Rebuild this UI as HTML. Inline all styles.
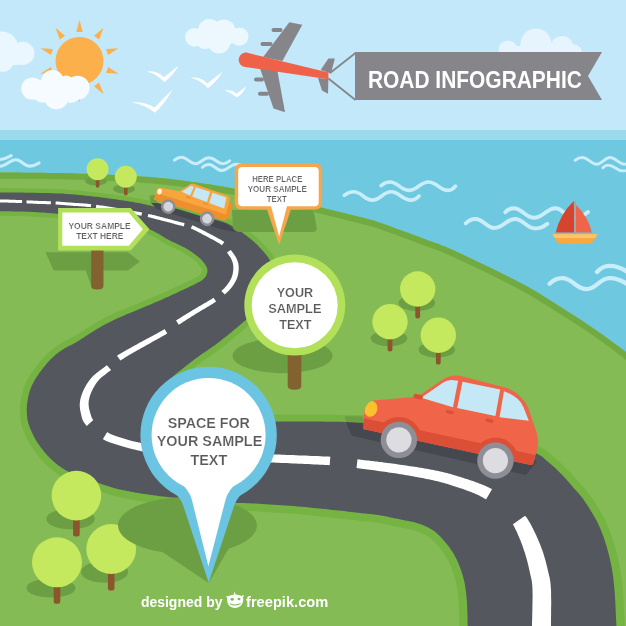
<!DOCTYPE html><html><head><meta charset="utf-8"><title>Road Infographic</title><style>html,body{margin:0;padding:0;background:#85bb55;overflow:hidden}svg{display:block;will-change:transform}</style></head><body><svg width="626" height="626" viewBox="0 0 626 626"><rect width="626" height="131" fill="#c2e8fa"/>
<rect y="130" width="626" height="11" fill="#9dd9ec"/>
<rect y="140" width="626" height="486" fill="#6ec8e0"/>
<g fill="#ebf7fe"><circle cx="1.5" cy="48.5" r="17.0"/><circle cx="22.8" cy="53.4" r="11.6"/><circle cx="2.5" cy="60.3" r="11.5"/></g>
<rect x="-5" y="50" width="30" height="15" rx="7" fill="#ebf7fe"/>
<g fill="#edf8fe"><circle cx="194.3" cy="37.2" r="9.2"/><circle cx="209.5" cy="30.5" r="11.5"/><circle cx="224.0" cy="31.0" r="11.5"/><circle cx="239.3" cy="36.6" r="9.2"/><circle cx="219.0" cy="42.3" r="11.3"/><circle cx="205.0" cy="40.3" r="8.8"/></g>
<ellipse cx="216.5" cy="37" rx="23" ry="9" fill="#edf8fe"/>
<g fill="#e6f5fd"><circle cx="508.0" cy="50.0" r="9.5"/><circle cx="536.0" cy="44.0" r="15.5"/><circle cx="562.0" cy="47.5" r="11.5"/><circle cx="574.0" cy="52.0" r="7.5"/></g>
<rect x="499" y="46" width="83" height="14" rx="7" fill="#e6f5fd"/>
<path d="M79.5 20.0 L82.7 32.0 L76.3 32.0Z M103.6 27.8 L99.1 39.4 L94.0 35.7Z M118.5 48.3 L108.1 55.1 L106.1 49.0Z M118.5 73.7 L106.1 73.0 L108.1 66.9Z M103.6 94.2 L94.0 86.3 L99.1 82.6Z M79.5 102.0 L76.3 90.0 L82.7 90.0Z M55.4 94.2 L59.9 82.6 L65.0 86.3Z M40.5 73.7 L50.9 66.9 L52.9 73.0Z M40.5 48.3 L52.9 49.0 L50.9 55.1Z M55.4 27.8 L65.0 35.7 L59.9 39.4Z" fill="#fbb04c"/>
<circle cx="79.5" cy="61" r="24" fill="#fbb04c"/>
<g fill="#f5fbff"><circle cx="32.3" cy="88.6" r="11.0"/><circle cx="52.5" cy="81.2" r="11.3"/><circle cx="77.6" cy="87.8" r="12.0"/><circle cx="56.3" cy="97.2" r="12.2"/><circle cx="66.0" cy="84.5" r="9.0"/><circle cx="42.5" cy="92.8" r="10.0"/><circle cx="70.5" cy="92.5" r="10.5"/></g>
<ellipse cx="55.5" cy="89.5" rx="33" ry="10.6" fill="#f5fbff"/>
<path d="M146.6 71.4 Q157.4 70.4 163.8 77.2 Q170.1 72.4 178.8 65.6 Q173.1 75.9 164.3 82.0 Q156.4 73.6 146.6 71.4 Z" fill="#fff"/>
<path d="M190.2 77.6 Q201.1 76.6 207.4 83.4 Q213.7 78.6 222.4 71.8 Q216.7 82.1 207.9 88.2 Q200.1 79.8 190.2 77.6 Z" fill="#fff"/>
<path d="M224.5 90.5 Q232.8 89.5 236.5 93.7 Q240.2 91.0 246.3 86.3 Q243.2 94.0 237.0 97.5 Q231.8 92.7 224.5 90.5 Z" fill="#fff"/>
<path d="M131.0 102.3 Q145.0 101.3 154.5 107.4 Q162.3 99.5 172.6 89.5 Q165.3 103.2 155.0 112.7 Q144.0 104.5 131.0 102.3 Z" fill="#fff"/>
<g fill="#85858a"><path d="M289.3 22.3 L302.3 24.8 L282.4 61 L263.2 57Z"/><path d="M259.4 66.5 L277.3 70.3 L285 112.2 L273.5 108.4Z"/><rect x="271.5" y="28" width="11" height="4" rx="2"/><rect x="260.5" y="42" width="12" height="4" rx="2"/><rect x="254" y="77.5" width="10" height="4" rx="2"/><rect x="258" y="91.7" width="11" height="4" rx="2"/><path d="M328.4 58.6 L334.8 58.6 L331 73.5 L320.7 70Z"/><path d="M318 78 L328.4 79 L328 93.8 L322 90.5Z"/></g>
<path d="M246.5 52.6 L328.4 72.4 L328.4 79.2 L245.2 67 A7.2 7.2 0 0 1 246.5 52.6Z" fill="#f0614a"/>
<path d="M330 73 L355.5 53 M328.4 78.5 L355.5 100" stroke="#85858a" stroke-width="1.8" fill="none"/>
<path d="M355 52 L602 52 L588 76 L602 100 L355 100Z" fill="#85858a"/>
<text x="474.9" y="87.6" font-family="Liberation Sans, Arial, sans-serif" font-weight="700" font-size="23.6" fill="#fff" text-anchor="middle" textLength="214" lengthAdjust="spacingAndGlyphs">ROAD INFOGRAPHIC</text>
<path d="M-14.0 160.0 C-11.2 159.8 -7.6 159.6 -3.0 159.6 C3.0 159.6 7.6 157.8 11.2 155.6" fill="none" stroke="#c9edf9" stroke-width="3.1" stroke-linecap="round"/>
<path d="M-16.0 159.8 C-12.0 163.3 -6.7 166.2 0.0 166.2 C6.7 166.2 9.3 159.8 16.0 159.8 C21.7 159.8 23.9 166.1 29.6 166.1 C33.5 166.1 36.6 164.7 39.0 163.0" fill="none" stroke="#c9edf9" stroke-width="3.1" stroke-linecap="round"/>
<path d="M174.4 160.1 C176.2 158.5 178.6 157.2 181.6 157.2 C187.3 157.2 189.5 163.7 195.2 163.7 C201.0 163.7 203.1 157.7 208.9 157.7 C214.9 157.7 217.3 163.7 223.3 163.7 C226.0 163.7 228.1 162.4 229.7 160.8" fill="none" stroke="#c9edf9" stroke-width="3.0" stroke-linecap="round"/>
<path d="M202.4 167.3 C204.0 165.7 206.2 164.4 208.9 164.4 C214.3 164.4 216.4 170.6 221.8 170.6 C227.8 170.6 230.0 164.2 236.0 164.2 C237.7 164.2 239.0 164.6 240.0 165.0" fill="none" stroke="#c9edf9" stroke-width="3.0" stroke-linecap="round"/>
<path d="M344.3 195.3 C346.7 193.4 349.8 191.8 353.7 191.8 C361.6 191.8 364.5 200.1 372.4 200.1 C380.2 200.1 383.2 191.8 391.0 191.8 C399.3 191.8 402.5 200.1 410.8 200.1 C414.3 200.1 417.0 198.3 419.1 196.0" fill="none" stroke="#c9edf9" stroke-width="3.6" stroke-linecap="round"/>
<path d="M381.1 185.6 C383.3 183.6 386.3 182.0 390.0 182.0 C397.9 182.0 400.8 190.4 408.7 190.4 C417.0 190.4 420.2 182.0 428.5 182.0 C436.8 182.0 439.9 190.4 448.2 190.4 C451.3 190.4 453.7 188.5 455.5 186.2" fill="none" stroke="#c9edf9" stroke-width="3.6" stroke-linecap="round"/>
<path d="M465.8 223.3 C468.2 220.9 471.4 219.0 475.4 219.0 C483.4 219.0 486.5 228.0 494.5 228.0 C503.1 228.0 506.3 219.0 514.9 219.0 C523.5 219.0 526.7 228.5 535.3 228.5 C540.3 228.5 544.3 226.4 547.3 223.8" fill="none" stroke="#c9edf9" stroke-width="3.9" stroke-linecap="round"/>
<path d="M505.3 212.3 C507.4 210.0 510.2 208.2 513.7 208.2 C522.2 208.2 525.5 217.8 534.0 217.8 C543.1 217.8 546.5 208.2 555.6 208.2 C562.9 208.2 565.7 217.8 573.0 217.8 C579.3 217.8 584.2 215.2 588.0 212.0" fill="none" stroke="#c9edf9" stroke-width="3.9" stroke-linecap="round"/>
<path d="M575.1 160.3 C576.9 158.8 579.3 157.5 582.3 157.5 C588.3 157.5 590.7 164.2 596.7 164.2 C602.3 164.2 604.5 157.5 610.1 157.5 C616.1 157.5 618.5 164.2 624.5 164.2 C631.0 164.2 636.1 161.2 640.0 157.5" fill="none" stroke="#c9edf9" stroke-width="2.9" stroke-linecap="round"/>
<path d="M602.9 167.8 C604.2 166.3 606.0 165.1 608.2 165.1 C614.2 165.1 616.6 170.9 622.6 170.9 C628.6 170.9 633.4 168.3 637.0 165.1" fill="none" stroke="#c9edf9" stroke-width="2.9" stroke-linecap="round"/>
<path d="M549.6 283.7 C552.7 280.7 556.8 278.2 562.0 278.2 C572.4 278.2 576.3 289.2 586.7 289.2 C596.2 289.2 599.9 278.2 609.4 278.2 C619.3 278.2 627.1 283.1 633.0 289.2" fill="none" stroke="#c9edf9" stroke-width="4.3" stroke-linecap="round"/>
<path d="M597.0 272.0 C600.1 268.6 604.2 265.8 609.4 265.8 C619.3 265.8 627.1 270.8 633.0 277.0" fill="none" stroke="#c9edf9" stroke-width="4.3" stroke-linecap="round"/>
<path d="M573.8 201 Q560 214 555.7 232.5 L574.2 232.5Z" fill="#d5452e"/>
<path d="M576 205 Q588.5 217 591.8 232.5 L576 232.5Z" fill="#f0654a"/>
<rect x="574.1" y="201" width="1.8" height="33" fill="#a3a3a8"/>
<path d="M552.3 234.2 L597.6 234.2 L592 243.2 Q575 244.8 558 243.2Z" fill="#f8a93f"/>
<path d="M552.3 234.2 L597.6 234.2 L595.3 238 L554.6 238Z" fill="#fbc56b"/>
<clipPath id="landclip"><path d="M-20.0 172.4 C-16.7 172.4 -10.0 172.4 0.0 172.5 C10.0 172.6 27.3 172.6 40.0 172.8 C52.7 173.0 62.7 173.1 76.0 173.5 C89.3 173.9 106.0 174.6 120.0 175.3 C134.0 176.1 146.7 176.7 160.0 178.0 C173.3 179.3 187.8 181.2 200.0 183.0 C212.2 184.8 219.7 186.0 233.0 188.5 C246.3 191.0 265.3 194.8 280.0 198.0 C294.7 201.2 307.7 204.3 321.0 207.5 C334.3 210.7 350.2 214.5 360.0 217.0 C369.8 219.5 369.2 219.0 380.0 222.7 C390.8 226.4 413.6 234.9 424.6 239.0 C435.6 243.1 438.1 243.7 446.0 247.0 C453.9 250.3 463.2 254.8 472.0 259.0 C480.8 263.2 489.3 267.2 499.0 272.0 C508.7 276.8 520.0 282.3 530.0 288.0 C540.0 293.7 549.0 299.7 559.0 306.0 C569.0 312.3 578.8 318.3 590.0 326.0 C601.2 333.7 616.0 344.3 626.0 352.0 C636.0 359.7 646.0 368.7 650.0 372.0 L650 640 L-20 640 Z"/></clipPath>
<path d="M-20.0 172.4 C-16.7 172.4 -10.0 172.4 0.0 172.5 C10.0 172.6 27.3 172.6 40.0 172.8 C52.7 173.0 62.7 173.1 76.0 173.5 C89.3 173.9 106.0 174.6 120.0 175.3 C134.0 176.1 146.7 176.7 160.0 178.0 C173.3 179.3 187.8 181.2 200.0 183.0 C212.2 184.8 219.7 186.0 233.0 188.5 C246.3 191.0 265.3 194.8 280.0 198.0 C294.7 201.2 307.7 204.3 321.0 207.5 C334.3 210.7 350.2 214.5 360.0 217.0 C369.8 219.5 369.2 219.0 380.0 222.7 C390.8 226.4 413.6 234.9 424.6 239.0 C435.6 243.1 438.1 243.7 446.0 247.0 C453.9 250.3 463.2 254.8 472.0 259.0 C480.8 263.2 489.3 267.2 499.0 272.0 C508.7 276.8 520.0 282.3 530.0 288.0 C540.0 293.7 549.0 299.7 559.0 306.0 C569.0 312.3 578.8 318.3 590.0 326.0 C601.2 333.7 616.0 344.3 626.0 352.0 C636.0 359.7 646.0 368.7 650.0 372.0 L650 640 L-20 640 Z" fill="#85bb55"/>
<path d="M-20.0 172.4 C-16.7 172.4 -10.0 172.4 0.0 172.5 C10.0 172.6 27.3 172.6 40.0 172.8 C52.7 173.0 62.7 173.1 76.0 173.5 C89.3 173.9 106.0 174.6 120.0 175.3 C134.0 176.1 146.7 176.7 160.0 178.0 C173.3 179.3 187.8 181.2 200.0 183.0 C212.2 184.8 219.7 186.0 233.0 188.5 C246.3 191.0 265.3 194.8 280.0 198.0 C294.7 201.2 307.7 204.3 321.0 207.5 C334.3 210.7 350.2 214.5 360.0 217.0 C369.8 219.5 369.2 219.0 380.0 222.7 C390.8 226.4 413.6 234.9 424.6 239.0 C435.6 243.1 438.1 243.7 446.0 247.0 C453.9 250.3 463.2 254.8 472.0 259.0 C480.8 263.2 489.3 267.2 499.0 272.0 C508.7 276.8 520.0 282.3 530.0 288.0 C540.0 293.7 549.0 299.7 559.0 306.0 C569.0 312.3 578.8 318.3 590.0 326.0 C601.2 333.7 616.0 344.3 626.0 352.0 C636.0 359.7 646.0 368.7 650.0 372.0" fill="none" stroke="#70aa41" stroke-width="12.4" clip-path="url(#landclip)"/>
<path d="M-10.0 188.0 L-9.6 188.0 L-9.5 188.0 L-9.3 188.0 L-9.0 188.0 L-8.6 188.0 L-7.9 188.0 L-6.8 188.0 L-5.1 188.0 L-2.9 188.0 L0.1 188.1 L4.0 188.1 L8.8 188.2 L14.4 188.2 L20.5 188.3 L27.0 188.4 L33.7 188.4 L40.2 188.6 L46.6 188.7 L52.5 188.9 L57.7 189.1 L62.4 189.3 L66.9 189.6 L71.2 189.9 L75.3 190.3 L79.2 190.6 L82.9 191.0 L86.5 191.4 L89.9 191.7 L93.1 192.1 L96.3 192.4 L99.3 192.8 L102.0 193.1 L104.6 193.4 L107.0 193.7 L109.3 194.0 L111.5 194.3 L113.6 194.6 L115.7 194.9 L117.7 195.2 L119.8 195.5 L121.9 195.8 L124.0 196.1 L126.0 196.4 L128.0 196.7 L130.0 197.0 L131.9 197.3 L133.7 197.7 L135.6 198.0 L137.4 198.3 L139.1 198.6 L140.8 198.9 L142.4 199.3 L143.9 199.6 L145.4 199.9 L146.9 200.2 L148.3 200.5 L149.8 200.9 L151.3 201.2 L152.9 201.6 L154.7 202.0 L156.6 202.4 L158.6 202.9 L160.6 203.4 L162.7 203.8 L164.8 204.3 L167.0 204.8 L169.2 205.3 L171.4 205.8 L173.7 206.3 L176.0 206.8 L178.3 207.3 L180.7 207.8 L183.2 208.3 L185.7 208.8 L188.3 209.2 L190.8 209.7 L193.4 210.2 L196.0 210.7 L198.5 211.2 L201.0 211.8 L203.4 212.3 L205.8 212.8 L208.3 213.3 L210.8 213.8 L213.2 214.3 L215.6 214.9 L218.0 215.4 L220.3 216.0 L222.5 216.7 L224.6 217.4 L226.6 218.0 L228.4 218.8 L230.0 219.5 L231.6 220.2 L233.1 221.0 L234.5 221.8 L235.9 222.6 L237.2 223.5 L238.6 224.3 L240.1 225.3 L241.7 226.3 L243.4 227.4 L245.0 228.6 L246.7 229.8 L248.4 231.0 L250.0 232.3 L251.6 233.5 L253.2 234.7 L254.6 235.9 L256.0 237.0 L257.3 238.1 L258.5 239.2 L259.6 240.2 L260.7 241.3 L261.7 242.3 L262.7 243.3 L263.6 244.2 L264.5 245.2 L265.3 246.1 L266.2 247.0 L267.0 247.9 L267.7 248.7 L268.5 249.6 L269.2 250.4 L270.0 251.3 L270.7 252.2 L271.4 253.1 L272.1 254.1 L272.9 255.2 L273.6 256.4 L274.3 257.5 L275.0 258.8 L275.7 260.0 L276.4 261.4 L277.1 262.8 L277.8 264.2 L278.4 265.8 L279.1 267.3 L279.6 268.9 L280.1 270.6 L280.6 272.2 L281.0 273.8 L281.4 275.6 L281.8 277.3 L282.1 279.2 L282.3 281.0 L282.5 282.9 L282.6 284.8 L282.6 286.7 L282.5 288.5 L282.3 290.3 L282.0 292.1 L281.6 293.9 L281.2 295.6 L280.6 297.3 L280.0 298.9 L279.3 300.6 L278.5 302.2 L277.7 303.7 L276.7 305.2 L275.7 306.7 L274.6 308.1 L273.4 309.4 L272.2 310.6 L270.9 311.8 L269.6 312.9 L268.3 313.9 L267.0 314.9 L265.6 315.9 L264.3 316.8 L262.7 317.8 L261.1 318.8 L259.4 319.7 L257.8 320.5 L256.2 321.3 L254.7 322.0 L253.2 322.7 L251.9 323.4 L250.7 324.1 L249.6 324.8 L248.6 325.4 L247.7 326.1 L246.9 326.8 L246.1 327.4 L245.3 328.2 L244.4 329.0 L243.4 329.9 L242.3 330.9 L241.0 332.0 L239.6 333.2 L238.0 334.4 L236.3 335.8 L234.5 337.3 L232.6 338.9 L230.6 340.6 L228.6 342.3 L226.5 343.9 L224.5 345.6 L222.4 347.2 L220.4 348.7 L218.4 350.2 L216.4 351.7 L214.4 353.1 L212.4 354.5 L210.4 355.8 L208.5 357.2 L206.6 358.5 L204.7 359.8 L202.9 361.0 L201.2 362.3 L199.5 363.6 L197.8 364.8 L196.2 366.1 L194.6 367.3 L193.0 368.5 L191.4 369.7 L189.9 371.0 L188.3 372.2 L186.8 373.4 L185.3 374.7 L183.7 376.0 L182.1 377.3 L180.5 378.7 L178.9 380.0 L177.4 381.3 L175.9 382.6 L174.5 383.9 L173.2 385.1 L171.9 386.3 L170.8 387.5 L169.7 388.7 L168.6 390.0 L167.6 391.3 L166.6 392.4 L165.7 393.6 L165.0 394.7 L164.4 395.6 L164.0 396.5 L163.7 397.2 L163.5 397.7 L163.4 398.3 L163.3 399.0 L163.3 399.5 L163.4 399.9 L163.4 400.2 L163.5 400.5 L163.7 400.8 L163.9 401.1 L164.2 401.5 L164.6 401.9 L165.3 402.5 L166.2 403.1 L167.3 403.8 L168.5 404.4 L170.0 405.1 L171.6 405.8 L173.4 406.4 L175.3 407.1 L177.4 407.7 L179.7 408.3 L182.1 408.8 L184.7 409.3 L187.6 409.8 L190.7 410.3 L193.9 410.7 L197.1 411.1 L200.5 411.5 L203.9 411.9 L207.3 412.2 L210.6 412.5 L213.9 412.8 L217.3 413.1 L220.7 413.3 L224.2 413.5 L227.7 413.6 L231.3 413.8 L234.8 413.9 L238.3 414.0 L241.8 414.1 L245.2 414.2 L248.4 414.3 L251.4 414.3 L254.2 414.4 L257.0 414.4 L259.8 414.4 L262.8 414.4 L266.0 414.4 L269.6 414.4 L273.6 414.5 L278.0 414.5 L283.1 414.5 L288.6 414.5 L294.5 414.5 L300.8 414.5 L307.3 414.5 L314.0 414.6 L320.7 414.6 L327.3 414.6 L333.8 414.7 L340.1 414.8 L346.3 414.9 L352.6 415.0 L358.9 415.1 L365.3 415.3 L371.6 415.4 L377.7 415.6 L383.8 415.8 L389.6 416.0 L395.1 416.2 L400.4 416.5 L405.2 416.7 L409.7 417.0 L414.0 417.3 L418.0 417.6 L421.9 417.9 L425.6 418.2 L429.4 418.6 L433.1 419.0 L437.0 419.5 L440.9 420.0 L445.0 420.6 L449.2 421.2 L453.4 421.8 L457.7 422.5 L461.9 423.2 L466.0 424.0 L470.1 424.7 L474.0 425.5 L477.8 426.3 L481.5 427.0 L485.0 427.8 L488.3 428.5 L491.5 429.3 L494.6 430.0 L497.7 430.8 L500.6 431.6 L503.6 432.4 L506.5 433.3 L509.4 434.2 L512.3 435.2 L515.4 436.3 L518.4 437.4 L521.5 438.6 L524.5 439.9 L527.5 441.1 L530.4 442.4 L533.1 443.6 L535.7 444.8 L538.0 446.0 L540.2 447.0 L542.0 448.0 L543.7 449.0 L545.2 449.9 L546.4 450.8 L547.6 451.7 L548.6 452.5 L549.4 453.3 L550.2 454.0 L551.1 454.7 L552.0 455.6 L553.2 456.5 L554.5 457.6 L555.8 458.7 L557.2 459.9 L558.5 461.1 L559.9 462.3 L561.2 463.6 L562.6 464.8 L564.0 466.1 L565.3 467.4 L566.6 468.8 L567.9 470.1 L569.1 471.4 L570.4 472.8 L571.6 474.1 L572.9 475.5 L574.1 476.9 L575.3 478.3 L576.5 479.6 L577.7 481.0 L578.9 482.3 L580.1 483.6 L581.3 484.9 L582.5 486.3 L583.8 487.7 L585.1 489.2 L586.5 490.9 L587.9 492.7 L589.4 494.6 L590.9 496.6 L592.3 498.8 L593.9 501.1 L595.5 503.5 L597.1 506.1 L598.7 508.7 L600.4 511.5 L602.0 514.3 L603.6 517.2 L605.1 520.1 L606.5 523.1 L607.8 526.0 L609.0 529.1 L610.2 532.1 L611.4 535.3 L612.4 538.4 L613.5 541.6 L614.4 544.7 L615.3 547.8 L616.2 551.0 L617.0 554.1 L617.8 557.1 L618.5 560.0 L619.1 563.0 L619.6 565.9 L620.2 568.8 L620.6 571.8 L621.1 574.8 L621.5 578.0 L621.9 581.3 L622.3 584.8 L622.7 588.6 L623.0 592.8 L623.3 597.3 L623.6 601.8 L623.9 606.4 L624.1 610.8 L624.3 615.1 L624.5 619.1 L624.7 622.6 L624.9 625.6 L625.0 628.1 L625.1 630.3 L625.2 632.2 L625.3 633.8 L625.3 635.2 L625.4 636.4 L625.4 637.4 L625.4 638.2 L625.5 639.0 L625.5 639.7 L459.5 640.2 L459.5 639.4 L459.5 638.4 L459.5 637.4 L459.4 636.2 L459.4 634.9 L459.4 633.4 L459.4 631.8 L459.3 630.1 L459.3 628.2 L459.2 626.2 L459.2 624.0 L459.1 621.5 L459.1 618.8 L459.1 616.0 L459.0 613.1 L458.9 610.2 L458.9 607.3 L458.7 604.6 L458.6 601.9 L458.4 599.5 L458.2 597.1 L458.0 594.7 L457.7 592.5 L457.4 590.3 L457.2 588.2 L456.8 586.2 L456.4 584.1 L456.0 582.1 L455.5 580.1 L455.0 578.0 L454.3 575.9 L453.6 573.7 L452.8 571.5 L452.0 569.2 L451.2 567.1 L450.2 564.9 L449.3 562.8 L448.2 560.7 L447.2 558.7 L446.1 556.8 L444.8 554.9 L443.5 552.9 L442.1 550.9 L440.6 549.0 L439.0 547.0 L437.4 545.2 L435.8 543.4 L434.3 541.8 L432.8 540.3 L431.3 539.0 L430.0 537.9 L428.7 536.9 L427.4 536.1 L426.1 535.3 L424.7 534.6 L423.3 533.9 L421.9 533.2 L420.4 532.6 L418.8 532.0 L417.2 531.3 L415.8 530.8 L414.5 530.4 L413.2 530.1 L411.9 529.7 L410.5 529.4 L408.9 529.1 L407.2 528.8 L405.4 528.5 L403.5 528.1 L401.4 527.7 L399.2 527.2 L396.8 526.7 L394.3 526.1 L391.8 525.6 L389.1 525.0 L386.5 524.5 L384.0 524.0 L381.5 523.5 L379.2 523.1 L377.0 522.7 L375.1 522.4 L373.3 522.1 L371.6 521.9 L370.0 521.8 L368.4 521.6 L366.8 521.5 L365.0 521.3 L363.2 521.2 L361.2 521.0 L359.1 520.7 L357.0 520.5 L354.8 520.2 L352.7 520.0 L350.5 519.7 L348.2 519.4 L345.9 519.1 L343.4 518.9 L340.8 518.6 L338.0 518.2 L335.0 517.9 L331.7 517.6 L328.2 517.2 L324.5 516.8 L320.7 516.4 L316.8 516.0 L312.7 515.6 L308.7 515.2 L304.7 514.8 L300.7 514.4 L296.9 514.1 L293.0 513.8 L289.1 513.5 L285.1 513.2 L281.1 512.9 L277.2 512.7 L273.2 512.4 L269.4 512.2 L265.6 511.9 L262.0 511.7 L258.6 511.5 L255.3 511.3 L252.2 511.2 L249.3 511.1 L246.5 510.9 L243.7 510.8 L240.9 510.7 L238.2 510.6 L235.4 510.5 L232.5 510.4 L229.6 510.2 L226.6 510.0 L223.7 509.9 L220.7 509.7 L217.7 509.5 L214.7 509.3 L211.7 509.1 L208.7 508.9 L205.6 508.7 L202.5 508.4 L199.3 508.2 L196.0 507.9 L192.5 507.5 L188.9 507.1 L185.3 506.8 L181.6 506.4 L178.1 506.0 L174.8 505.6 L171.7 505.2 L168.9 504.9 L166.5 504.6 L164.5 504.4 L162.9 504.2 L161.7 504.1 L160.7 504.0 L159.8 503.9 L159.0 503.8 L158.1 503.7 L157.2 503.5 L156.1 503.4 L154.7 503.2 L153.1 503.0 L151.4 502.7 L149.5 502.4 L147.6 502.2 L145.6 501.9 L143.6 501.6 L141.5 501.2 L139.4 500.9 L137.4 500.6 L135.4 500.2 L133.5 499.9 L131.5 499.5 L129.6 499.2 L127.7 498.8 L125.7 498.5 L123.7 498.1 L121.7 497.7 L119.7 497.2 L117.7 496.8 L115.6 496.3 L113.6 495.7 L111.6 495.2 L109.6 494.6 L107.6 494.0 L105.7 493.4 L103.7 492.7 L101.8 492.1 L99.9 491.5 L97.9 490.8 L96.0 490.2 L94.0 489.5 L92.0 488.9 L89.9 488.2 L87.8 487.6 L85.7 486.9 L83.6 486.1 L81.4 485.4 L79.3 484.6 L77.2 483.8 L75.1 482.9 L73.1 482.0 L71.1 481.1 L69.1 480.2 L67.2 479.3 L65.2 478.3 L63.3 477.3 L61.4 476.2 L59.5 475.1 L57.6 473.9 L55.8 472.7 L54.0 471.4 L52.3 470.1 L50.6 468.7 L49.0 467.3 L47.5 465.9 L46.0 464.5 L44.6 463.0 L43.2 461.6 L41.9 460.1 L40.6 458.7 L39.3 457.2 L38.0 455.7 L36.8 454.1 L35.6 452.6 L34.5 451.0 L33.3 449.4 L32.3 447.8 L31.2 446.2 L30.3 444.6 L29.3 443.0 L28.4 441.3 L27.5 439.6 L26.6 437.9 L25.8 436.2 L25.0 434.4 L24.3 432.7 L23.6 431.0 L23.0 429.3 L22.4 427.7 L21.9 426.1 L21.4 424.5 L21.0 423.0 L20.7 421.5 L20.5 420.0 L20.3 418.6 L20.2 417.3 L20.1 416.0 L20.0 414.7 L19.9 413.5 L19.9 412.3 L19.9 411.1 L19.8 409.8 L19.9 408.6 L19.9 407.4 L20.0 406.2 L20.1 404.9 L20.2 403.7 L20.4 402.4 L20.6 401.2 L20.8 399.9 L21.0 398.6 L21.3 397.2 L21.6 395.8 L21.9 394.4 L22.3 392.9 L22.7 391.3 L23.1 389.8 L23.6 388.2 L24.2 386.6 L24.9 385.0 L25.6 383.4 L26.3 381.9 L27.1 380.4 L27.9 378.8 L28.7 377.3 L29.6 375.8 L30.6 374.3 L31.6 372.8 L32.6 371.3 L33.7 369.7 L34.8 368.2 L36.1 366.6 L37.3 364.9 L38.7 363.3 L40.0 361.6 L41.4 360.0 L42.8 358.4 L44.2 356.9 L45.7 355.4 L47.0 354.0 L48.4 352.7 L49.8 351.4 L51.2 350.3 L52.6 349.2 L53.9 348.1 L55.3 347.2 L56.6 346.2 L58.0 345.3 L59.3 344.4 L60.6 343.6 L62.0 342.7 L63.4 341.9 L64.8 341.2 L66.1 340.5 L67.3 339.9 L68.5 339.3 L69.8 338.7 L71.0 338.1 L72.4 337.4 L73.8 336.5 L75.5 335.5 L77.3 334.4 L79.2 333.2 L81.2 331.9 L83.3 330.5 L85.4 329.1 L87.6 327.7 L89.7 326.4 L91.9 325.0 L93.9 323.8 L95.9 322.7 L97.8 321.6 L99.7 320.6 L101.6 319.6 L103.5 318.6 L105.4 317.6 L107.3 316.6 L109.3 315.6 L111.3 314.7 L113.5 313.6 L115.8 312.6 L118.2 311.6 L120.7 310.5 L123.2 309.4 L125.7 308.4 L128.3 307.3 L130.8 306.3 L133.2 305.3 L135.5 304.4 L137.8 303.5 L139.9 302.6 L141.9 301.7 L143.9 300.9 L145.8 300.1 L147.7 299.3 L149.5 298.6 L151.4 297.8 L153.2 297.1 L155.0 296.3 L156.9 295.5 L158.8 294.6 L160.7 293.8 L162.7 292.9 L164.6 292.1 L166.5 291.2 L168.4 290.3 L170.3 289.5 L172.2 288.6 L174.1 287.8 L175.9 286.9 L177.8 286.1 L179.7 285.2 L181.6 284.3 L183.5 283.5 L185.3 282.6 L187.1 281.8 L188.8 281.0 L190.4 280.3 L191.8 279.6 L193.1 278.9 L194.3 278.3 L195.3 277.8 L196.2 277.3 L197.0 276.9 L197.6 276.5 L198.2 276.2 L198.7 275.9 L199.1 275.6 L199.5 275.3 L199.9 275.0 L200.2 274.6 L200.5 274.3 L200.8 274.0 L201.0 273.7 L201.2 273.5 L201.4 273.2 L201.5 273.0 L201.6 272.7 L201.7 272.4 L201.8 272.1 L201.9 271.7 L202.0 271.3 L202.1 271.0 L202.1 270.7 L202.1 270.5 L202.1 270.3 L202.1 270.1 L202.1 269.9 L202.0 269.6 L201.8 269.2 L201.6 268.7 L201.2 268.1 L200.8 267.4 L200.3 266.7 L199.8 266.0 L199.2 265.2 L198.6 264.4 L197.9 263.6 L197.1 262.8 L196.2 262.0 L195.3 261.2 L194.3 260.3 L193.2 259.4 L192.0 258.5 L190.8 257.6 L189.5 256.7 L188.2 255.7 L186.7 254.8 L185.3 253.9 L183.8 253.0 L182.2 252.1 L180.5 251.1 L178.7 250.2 L176.7 249.3 L174.8 248.3 L172.7 247.3 L170.7 246.4 L168.7 245.4 L166.7 244.4 L164.7 243.4 L162.8 242.3 L161.0 241.3 L159.4 240.2 L157.8 239.2 L156.3 238.3 L154.8 237.3 L153.3 236.4 L151.6 235.6 L149.8 234.7 L147.8 233.9 L145.4 233.0 L142.9 232.1 L140.1 231.2 L137.2 230.3 L134.2 229.4 L131.2 228.6 L128.1 227.8 L125.0 227.0 L122.0 226.3 L119.0 225.6 L116.1 225.0 L113.2 224.4 L110.3 223.9 L107.4 223.5 L104.5 223.0 L101.6 222.6 L98.6 222.2 L95.6 221.8 L92.6 221.5 L89.5 221.1 L86.3 220.8 L83.1 220.4 L79.9 220.1 L76.6 219.8 L73.3 219.5 L70.0 219.3 L66.7 219.0 L63.5 218.8 L60.3 218.5 L57.1 218.3 L54.1 218.1 L51.2 217.8 L48.3 217.6 L45.4 217.4 L42.6 217.2 L39.8 217.0 L37.0 216.8 L34.2 216.7 L31.4 216.5 L28.6 216.4 L25.7 216.3 L22.6 216.2 L19.5 216.1 L16.3 216.0 L13.2 216.0 L10.1 215.9 L7.2 215.9 L4.5 215.8 L2.1 215.8 L-0.1 215.8 L-1.9 215.7 L-3.4 215.7 L-4.7 215.7 L-5.9 215.7 L-6.8 215.7 L-7.6 215.7 L-8.3 215.7 L-9.0 215.7 L-9.5 215.7 L-10.0 215.7Z" fill="#75b343"/>
<path d="M-10.0 192.3 L-9.6 192.3 L-9.4 192.3 L-9.2 192.3 L-9.0 192.3 L-8.6 192.3 L-7.9 192.3 L-6.8 192.3 L-5.2 192.3 L-3.0 192.4 L0.0 192.4 L3.9 192.5 L8.8 192.5 L14.4 192.6 L20.5 192.6 L27.0 192.7 L33.6 192.8 L40.2 192.9 L46.5 193.0 L52.3 193.2 L57.5 193.4 L62.2 193.6 L66.6 193.9 L70.9 194.3 L74.9 194.6 L78.8 195.0 L82.5 195.3 L86.0 195.7 L89.4 196.1 L92.7 196.5 L95.8 196.8 L98.8 197.1 L101.5 197.4 L104.1 197.8 L106.4 198.1 L108.7 198.4 L110.9 198.7 L113.0 199.0 L115.0 199.3 L117.1 199.6 L119.2 199.9 L121.3 200.2 L123.4 200.5 L125.4 200.8 L127.3 201.1 L129.2 201.4 L131.1 201.7 L133.0 202.0 L134.8 202.4 L136.6 202.7 L138.3 203.0 L140.0 203.3 L141.5 203.6 L143.0 204.0 L144.4 204.3 L145.9 204.6 L147.3 204.9 L148.8 205.3 L150.3 205.6 L151.9 206.0 L153.7 206.4 L155.6 206.8 L157.5 207.3 L159.5 207.8 L161.6 208.2 L163.8 208.8 L165.9 209.3 L168.2 209.8 L170.4 210.3 L172.7 210.8 L175.0 211.3 L177.4 211.8 L179.8 212.3 L182.3 212.8 L184.8 213.3 L187.4 213.8 L190.0 214.3 L192.5 214.8 L195.1 215.3 L197.6 215.8 L200.0 216.3 L202.4 216.8 L204.9 217.3 L207.3 217.9 L209.8 218.4 L212.2 218.9 L214.6 219.4 L216.9 220.0 L219.1 220.6 L221.2 221.2 L223.1 221.8 L224.9 222.5 L226.5 223.1 L228.0 223.8 L229.4 224.5 L230.8 225.2 L232.1 225.9 L233.4 226.7 L234.7 227.5 L236.1 228.4 L237.5 229.3 L239.0 230.3 L240.6 231.4 L242.2 232.5 L243.8 233.7 L245.4 234.9 L247.0 236.1 L248.6 237.4 L250.1 238.6 L251.5 239.7 L252.8 240.8 L254.0 241.8 L255.1 242.9 L256.2 243.9 L257.2 244.8 L258.1 245.8 L259.0 246.7 L259.9 247.7 L260.8 248.6 L261.6 249.5 L262.4 250.4 L263.2 251.3 L263.9 252.1 L264.6 252.9 L265.3 253.7 L266.0 254.5 L266.6 255.3 L267.2 256.1 L267.9 257.0 L268.5 258.0 L269.1 259.0 L269.7 260.1 L270.4 261.3 L271.1 262.5 L271.7 263.7 L272.3 265.0 L273.0 266.4 L273.5 267.7 L274.1 269.1 L274.6 270.6 L275.0 272.0 L275.4 273.5 L275.8 275.0 L276.1 276.6 L276.4 278.3 L276.7 279.9 L276.9 281.6 L277.0 283.3 L277.1 284.9 L277.1 286.5 L277.0 288.0 L276.8 289.5 L276.5 291.0 L276.2 292.5 L275.8 293.9 L275.3 295.4 L274.8 296.8 L274.2 298.2 L273.5 299.5 L272.8 300.8 L272.0 302.0 L271.2 303.2 L270.2 304.3 L269.3 305.4 L268.2 306.4 L267.1 307.4 L265.9 308.4 L264.8 309.3 L263.5 310.2 L262.3 311.1 L261.0 312.0 L259.7 312.9 L258.2 313.7 L256.8 314.5 L255.2 315.2 L253.7 316.0 L252.1 316.7 L250.6 317.5 L249.1 318.2 L247.7 319.0 L246.4 319.8 L245.2 320.6 L244.2 321.4 L243.2 322.1 L242.3 322.9 L241.4 323.7 L240.5 324.5 L239.5 325.4 L238.4 326.3 L237.2 327.4 L235.8 328.5 L234.2 329.8 L232.5 331.2 L230.7 332.7 L228.8 334.2 L226.8 335.9 L224.8 337.5 L222.7 339.1 L220.7 340.8 L218.7 342.3 L216.7 343.8 L214.8 345.2 L212.8 346.6 L210.9 348.0 L208.9 349.3 L206.9 350.7 L205.0 352.0 L203.0 353.3 L201.2 354.6 L199.3 355.9 L197.5 357.2 L195.7 358.5 L194.0 359.7 L192.4 361.0 L190.7 362.2 L189.1 363.5 L187.5 364.7 L185.9 365.9 L184.3 367.2 L182.8 368.4 L181.2 369.7 L179.6 371.0 L178.0 372.3 L176.4 373.6 L174.7 375.0 L173.1 376.3 L171.6 377.7 L170.1 379.0 L168.6 380.3 L167.3 381.7 L166.0 383.0 L164.8 384.3 L163.6 385.7 L162.5 387.0 L161.4 388.3 L160.4 389.6 L159.4 391.0 L158.6 392.3 L157.9 393.5 L157.4 394.8 L157.0 396.0 L156.7 397.2 L156.6 398.4 L156.5 399.5 L156.6 400.7 L156.8 401.8 L157.1 402.9 L157.6 404.0 L158.2 405.0 L159.0 406.0 L160.0 407.0 L161.1 407.9 L162.4 408.8 L163.9 409.7 L165.4 410.6 L167.2 411.4 L169.1 412.2 L171.1 413.0 L173.3 413.7 L175.6 414.4 L178.0 415.0 L180.6 415.6 L183.5 416.2 L186.5 416.7 L189.6 417.2 L192.9 417.6 L196.3 418.1 L199.7 418.5 L203.2 418.8 L206.6 419.2 L210.0 419.5 L213.4 419.8 L216.8 420.0 L220.3 420.3 L223.9 420.4 L227.4 420.6 L231.0 420.8 L234.6 420.9 L238.1 421.0 L241.6 421.1 L245.0 421.2 L248.3 421.3 L251.3 421.3 L254.1 421.4 L257.0 421.4 L259.8 421.4 L262.8 421.4 L266.0 421.5 L269.6 421.5 L273.5 421.5 L278.0 421.5 L283.0 421.5 L288.6 421.5 L294.5 421.5 L300.8 421.6 L307.3 421.6 L314.0 421.6 L320.6 421.6 L327.3 421.7 L333.8 421.7 L340.0 421.8 L346.2 421.9 L352.4 422.0 L358.8 422.2 L365.1 422.3 L371.4 422.5 L377.5 422.6 L383.5 422.8 L389.3 423.0 L394.8 423.3 L400.0 423.5 L404.8 423.8 L409.3 424.0 L413.5 424.3 L417.4 424.6 L421.2 424.9 L425.0 425.3 L428.6 425.6 L432.3 426.0 L436.1 426.5 L440.0 427.0 L444.0 427.6 L448.2 428.2 L452.3 428.8 L456.5 429.5 L460.6 430.2 L464.7 431.0 L468.7 431.7 L472.6 432.5 L476.4 433.2 L480.0 434.0 L483.4 434.7 L486.7 435.5 L489.8 436.2 L492.9 437.0 L495.8 437.7 L498.7 438.5 L501.6 439.3 L504.4 440.2 L507.2 441.1 L510.0 442.0 L512.9 443.0 L515.8 444.1 L518.8 445.3 L521.7 446.5 L524.6 447.8 L527.4 449.0 L530.1 450.2 L532.5 451.4 L534.8 452.5 L536.8 453.5 L538.5 454.4 L539.9 455.2 L541.1 456.0 L542.1 456.7 L542.9 457.3 L543.7 458.0 L544.5 458.7 L545.3 459.5 L546.2 460.3 L547.3 461.2 L548.5 462.2 L549.7 463.2 L551.0 464.3 L552.3 465.4 L553.6 466.6 L554.9 467.8 L556.2 469.0 L557.5 470.2 L558.7 471.5 L560.0 472.7 L561.2 473.9 L562.4 475.2 L563.6 476.5 L564.8 477.8 L566.0 479.1 L567.2 480.5 L568.4 481.8 L569.6 483.2 L570.8 484.6 L572.0 486.0 L573.2 487.4 L574.4 488.7 L575.6 490.1 L576.9 491.4 L578.1 492.8 L579.3 494.2 L580.6 495.7 L581.8 497.3 L583.2 499.1 L584.5 501.0 L585.9 503.1 L587.4 505.3 L588.9 507.7 L590.5 510.2 L592.1 512.7 L593.6 515.4 L595.1 518.1 L596.6 520.8 L598.0 523.5 L599.3 526.3 L600.5 529.1 L601.7 532.0 L602.8 534.9 L603.9 537.9 L604.9 540.9 L605.8 543.9 L606.8 547.0 L607.6 550.0 L608.4 553.0 L609.2 556.0 L609.9 558.9 L610.5 561.8 L611.1 564.5 L611.6 567.3 L612.1 570.1 L612.6 573.0 L613.0 575.9 L613.4 579.0 L613.7 582.2 L614.1 585.6 L614.4 589.3 L614.8 593.4 L615.0 597.8 L615.3 602.2 L615.5 606.8 L615.7 611.2 L615.9 615.5 L616.1 619.4 L616.3 623.0 L616.4 626.0 L616.5 628.5 L616.6 630.7 L616.7 632.6 L616.8 634.2 L616.8 635.5 L616.9 636.7 L616.9 637.7 L616.9 638.5 L617.0 639.3 L617.0 640.0 L468.0 640.0 L468.0 639.2 L468.0 638.3 L468.0 637.2 L467.9 636.0 L467.9 634.7 L467.9 633.2 L467.9 631.6 L467.8 629.9 L467.8 628.0 L467.7 626.0 L467.6 623.8 L467.6 621.3 L467.5 618.7 L467.5 615.8 L467.4 612.9 L467.3 609.9 L467.2 607.0 L467.1 604.1 L466.9 601.3 L466.7 598.7 L466.5 596.2 L466.2 593.8 L465.9 591.5 L465.6 589.2 L465.3 586.9 L464.9 584.7 L464.5 582.5 L464.0 580.2 L463.4 578.0 L462.8 575.7 L462.1 573.4 L461.3 571.0 L460.5 568.7 L459.6 566.3 L458.6 563.9 L457.6 561.6 L456.5 559.3 L455.4 557.0 L454.2 554.8 L452.9 552.6 L451.5 550.5 L450.0 548.3 L448.5 546.1 L446.8 544.0 L445.1 541.9 L443.4 539.9 L441.6 538.0 L439.9 536.2 L438.2 534.5 L436.5 533.0 L434.9 531.6 L433.2 530.4 L431.6 529.4 L429.9 528.4 L428.3 527.5 L426.6 526.7 L425.0 526.0 L423.3 525.3 L421.7 524.6 L420.0 524.0 L418.4 523.4 L416.8 522.9 L415.2 522.5 L413.6 522.1 L412.0 521.8 L410.4 521.4 L408.7 521.1 L406.9 520.8 L405.0 520.4 L403.0 520.0 L400.8 519.5 L398.5 519.0 L396.0 518.5 L393.4 517.9 L390.7 517.4 L388.1 516.8 L385.5 516.3 L383.0 515.8 L380.5 515.4 L378.3 515.0 L376.2 514.7 L374.3 514.4 L372.5 514.2 L370.8 514.0 L369.1 513.9 L367.4 513.7 L365.7 513.6 L363.9 513.4 L362.0 513.2 L360.0 513.0 L357.9 512.8 L355.8 512.5 L353.6 512.3 L351.4 512.0 L349.1 511.7 L346.8 511.4 L344.3 511.1 L341.6 510.8 L338.8 510.5 L335.8 510.2 L332.5 509.9 L329.0 509.5 L325.4 509.1 L321.5 508.7 L317.5 508.3 L313.5 507.9 L309.4 507.5 L305.4 507.1 L301.4 506.7 L297.5 506.4 L293.6 506.1 L289.7 505.8 L285.7 505.5 L281.7 505.2 L277.7 504.9 L273.7 504.7 L269.9 504.4 L266.1 504.2 L262.5 504.0 L259.0 503.8 L255.7 503.6 L252.6 503.5 L249.6 503.3 L246.8 503.2 L244.0 503.1 L241.2 503.0 L238.5 502.9 L235.7 502.8 L232.9 502.7 L230.0 502.5 L227.1 502.3 L224.1 502.2 L221.2 502.0 L218.2 501.8 L215.2 501.6 L212.2 501.4 L209.2 501.2 L206.2 501.0 L203.1 500.8 L200.0 500.5 L196.7 500.2 L193.3 499.9 L189.7 499.5 L186.1 499.1 L182.5 498.7 L179.0 498.3 L175.6 497.9 L172.5 497.6 L169.7 497.3 L167.3 497.0 L165.3 496.8 L163.8 496.6 L162.5 496.5 L161.5 496.4 L160.7 496.3 L159.9 496.2 L159.1 496.1 L158.2 495.9 L157.2 495.8 L155.8 495.6 L154.2 495.4 L152.5 495.1 L150.6 494.9 L148.7 494.6 L146.7 494.3 L144.7 494.0 L142.7 493.7 L140.6 493.4 L138.6 493.0 L136.7 492.7 L134.8 492.4 L132.9 492.0 L130.9 491.7 L129.0 491.3 L127.1 491.0 L125.2 490.6 L123.3 490.2 L121.3 489.8 L119.4 489.4 L117.5 488.9 L115.6 488.4 L113.7 487.9 L111.8 487.3 L109.9 486.7 L108.0 486.1 L106.1 485.5 L104.1 484.9 L102.2 484.3 L100.3 483.6 L98.3 483.0 L96.3 482.4 L94.3 481.7 L92.2 481.1 L90.1 480.4 L88.1 479.7 L86.0 479.0 L84.0 478.3 L81.9 477.6 L79.9 476.8 L78.0 476.0 L76.1 475.2 L74.2 474.3 L72.3 473.5 L70.4 472.6 L68.6 471.7 L66.8 470.7 L65.0 469.7 L63.3 468.7 L61.6 467.7 L60.0 466.6 L58.4 465.5 L56.9 464.3 L55.4 463.1 L53.9 461.8 L52.5 460.5 L51.2 459.2 L49.8 457.9 L48.5 456.5 L47.2 455.2 L46.0 453.8 L44.8 452.4 L43.6 451.0 L42.5 449.6 L41.4 448.2 L40.3 446.8 L39.3 445.3 L38.3 443.8 L37.3 442.4 L36.4 440.9 L35.5 439.4 L34.6 437.9 L33.8 436.3 L33.0 434.7 L32.2 433.1 L31.5 431.6 L30.8 430.0 L30.2 428.4 L29.6 426.9 L29.1 425.4 L28.6 424.0 L28.2 422.7 L27.9 421.4 L27.6 420.1 L27.4 418.9 L27.2 417.7 L27.1 416.6 L27.0 415.4 L26.9 414.3 L26.9 413.1 L26.8 412.0 L26.8 410.9 L26.7 409.8 L26.7 408.7 L26.8 407.6 L26.8 406.6 L26.9 405.5 L27.0 404.5 L27.1 403.3 L27.3 402.2 L27.5 401.0 L27.7 399.8 L27.9 398.5 L28.2 397.1 L28.5 395.8 L28.8 394.4 L29.1 393.1 L29.5 391.7 L30.0 390.3 L30.5 388.9 L31.0 387.5 L31.6 386.1 L32.2 384.7 L32.9 383.4 L33.7 382.0 L34.4 380.6 L35.3 379.2 L36.1 377.8 L37.0 376.4 L38.0 374.9 L39.0 373.5 L40.1 372.0 L41.2 370.5 L42.4 368.9 L43.7 367.3 L45.0 365.7 L46.3 364.2 L47.6 362.6 L48.9 361.2 L50.2 359.8 L51.5 358.5 L52.7 357.3 L54.0 356.2 L55.2 355.1 L56.5 354.1 L57.7 353.1 L59.0 352.2 L60.2 351.3 L61.5 350.5 L62.7 349.6 L64.0 348.8 L65.2 348.0 L66.5 347.3 L67.6 346.7 L68.8 346.1 L70.0 345.5 L71.3 344.9 L72.6 344.2 L73.9 343.5 L75.4 342.7 L77.0 341.8 L78.7 340.7 L80.6 339.6 L82.5 338.3 L84.5 337.0 L86.6 335.6 L88.7 334.2 L90.9 332.8 L93.0 331.5 L95.0 330.2 L97.0 329.0 L98.9 327.9 L100.8 326.8 L102.6 325.8 L104.4 324.8 L106.2 323.8 L108.1 322.9 L110.0 321.9 L111.9 321.0 L113.9 320.0 L116.0 319.0 L118.2 318.0 L120.6 316.9 L123.0 315.9 L125.5 314.8 L128.0 313.8 L130.5 312.7 L133.0 311.7 L135.4 310.7 L137.8 309.7 L140.0 308.8 L142.1 307.9 L144.1 307.1 L146.1 306.2 L148.0 305.4 L149.9 304.7 L151.8 303.9 L153.6 303.1 L155.4 302.3 L157.3 301.5 L159.2 300.7 L161.1 299.9 L163.1 299.0 L165.0 298.1 L166.9 297.2 L168.9 296.4 L170.8 295.5 L172.7 294.6 L174.6 293.7 L176.5 292.9 L178.3 292.0 L180.1 291.1 L182.0 290.3 L183.9 289.4 L185.8 288.5 L187.7 287.7 L189.4 286.8 L191.2 286.0 L192.8 285.2 L194.3 284.5 L195.6 283.8 L196.8 283.2 L197.9 282.6 L198.8 282.1 L199.6 281.7 L200.4 281.2 L201.1 280.8 L201.7 280.4 L202.4 280.0 L202.9 279.5 L203.5 279.0 L204.0 278.5 L204.5 278.0 L205.0 277.4 L205.4 276.9 L205.8 276.4 L206.1 275.8 L206.4 275.2 L206.6 274.7 L206.8 274.1 L207.0 273.5 L207.1 272.9 L207.3 272.3 L207.4 271.7 L207.4 271.1 L207.4 270.5 L207.4 269.8 L207.3 269.2 L207.2 268.5 L206.9 267.7 L206.6 267.0 L206.2 266.2 L205.7 265.4 L205.2 264.6 L204.6 263.7 L204.0 262.8 L203.2 261.9 L202.5 261.0 L201.6 260.0 L200.7 259.1 L199.7 258.2 L198.6 257.3 L197.5 256.3 L196.3 255.4 L195.1 254.4 L193.8 253.5 L192.4 252.5 L191.0 251.5 L189.5 250.5 L187.9 249.6 L186.3 248.6 L184.6 247.6 L182.8 246.7 L180.9 245.7 L178.9 244.8 L176.9 243.8 L174.9 242.8 L172.8 241.9 L170.8 240.9 L168.9 240.0 L167.0 239.0 L165.2 238.0 L163.6 237.1 L162.0 236.1 L160.4 235.1 L158.9 234.1 L157.3 233.2 L155.6 232.2 L153.7 231.2 L151.7 230.3 L149.5 229.4 L147.0 228.5 L144.4 227.6 L141.5 226.7 L138.6 225.8 L135.5 224.9 L132.4 224.0 L129.3 223.2 L126.1 222.4 L123.0 221.7 L120.0 221.0 L117.0 220.4 L114.1 219.8 L111.1 219.3 L108.2 218.8 L105.2 218.4 L102.2 218.0 L99.2 217.6 L96.2 217.2 L93.1 216.9 L90.0 216.5 L86.8 216.1 L83.6 215.8 L80.3 215.5 L77.0 215.2 L73.7 214.9 L70.3 214.7 L67.0 214.4 L63.8 214.2 L60.6 213.9 L57.5 213.7 L54.5 213.5 L51.5 213.2 L48.6 213.0 L45.8 212.8 L42.9 212.6 L40.1 212.4 L37.3 212.2 L34.5 212.1 L31.7 211.9 L28.8 211.8 L25.8 211.7 L22.7 211.6 L19.6 211.5 L16.4 211.4 L13.2 211.4 L10.2 211.3 L7.3 211.3 L4.6 211.3 L2.1 211.2 L0.0 211.2 L-1.8 211.2 L-3.4 211.1 L-4.7 211.1 L-5.8 211.1 L-6.8 211.1 L-7.6 211.1 L-8.3 211.1 L-8.9 211.1 L-9.5 211.1 L-10.0 211.1Z" fill="#54575e"/>
<path d="M-10.0 199.7 L-9.4 199.7 L-8.8 199.7 L-8.1 199.7 L-7.3 199.7 L-6.4 199.7 L-5.5 199.7 L-4.5 199.7 L-3.4 199.6 L-2.4 199.6 L-1.2 199.6 L-0.1 199.6 L1.1 199.6 L2.3 199.6 L3.6 199.6 L4.8 199.6 L6.1 199.6 L7.3 199.6 L8.6 199.6 L9.8 199.7 L11.0 199.7 L12.3 199.7 L13.6 199.8 L14.9 199.8 L16.3 199.9 L17.7 199.9 L19.2 200.0 L20.7 200.1 L22.1 200.1 L22.0 203.1 L20.5 203.1 L19.1 203.0 L17.6 202.9 L16.2 202.9 L14.8 202.8 L13.5 202.8 L12.2 202.7 L11.0 202.7 L9.7 202.7 L8.5 202.7 L7.3 202.6 L6.0 202.6 L4.8 202.6 L3.6 202.6 L2.3 202.6 L1.1 202.6 L-0.1 202.6 L-1.2 202.6 L-2.3 202.6 L-3.4 202.6 L-4.5 202.7 L-5.4 202.7 L-6.4 202.7 L-7.2 202.7 L-8.0 202.7 L-8.8 202.7 L-9.4 202.7 L-10.0 202.7Z M26.6 200.3 L28.1 200.4 L29.5 200.5 L31.0 200.5 L32.4 200.6 L33.7 200.7 L35.0 200.7 L36.3 200.8 L37.5 200.8 L38.7 200.9 L39.7 200.9 L40.8 201.0 L41.8 201.0 L42.7 201.0 L43.6 201.1 L44.5 201.1 L45.4 201.1 L46.2 201.1 L47.0 201.2 L47.8 201.2 L48.6 201.2 L49.3 201.2 L50.1 201.3 L50.9 201.3 L50.8 204.3 L50.0 204.3 L49.2 204.2 L48.5 204.2 L47.7 204.2 L46.9 204.2 L46.1 204.2 L45.3 204.1 L44.4 204.1 L43.5 204.1 L42.6 204.1 L41.7 204.0 L40.7 204.0 L39.6 204.0 L38.5 203.9 L37.4 203.9 L36.2 203.8 L34.9 203.7 L33.6 203.7 L32.2 203.6 L30.8 203.6 L29.4 203.5 L27.9 203.4 L26.5 203.3Z M55.7 201.5 L56.5 201.5 L57.4 201.6 L58.3 201.6 L59.1 201.7 L60.0 201.8 L60.9 201.8 L61.7 201.9 L62.6 202.0 L63.5 202.0 L64.4 202.1 L65.2 202.2 L66.1 202.2 L67.0 202.3 L67.8 202.4 L68.7 202.4 L69.6 202.5 L70.5 202.6 L71.4 202.6 L72.2 202.7 L73.1 202.8 L74.0 202.8 L74.8 202.9 L75.7 203.0 L76.5 203.0 L77.3 203.1 L78.1 203.1 L78.9 203.1 L79.7 203.2 L80.5 203.2 L81.4 203.3 L82.2 203.3 L83.1 203.4 L84.0 203.5 L84.9 203.5 L85.8 203.6 L86.8 203.7 L87.9 203.8 L88.9 203.9 L90.0 204.0 L91.2 204.2 L90.8 207.2 L89.7 207.1 L88.6 207.0 L87.5 206.9 L86.5 206.8 L85.6 206.7 L84.6 206.6 L83.7 206.5 L82.9 206.4 L82.0 206.4 L81.2 206.3 L80.4 206.3 L79.5 206.2 L78.7 206.2 L77.9 206.1 L77.1 206.1 L76.3 206.0 L75.5 206.0 L74.6 205.9 L73.8 205.9 L72.9 205.8 L72.0 205.7 L71.1 205.7 L70.2 205.6 L69.4 205.5 L68.5 205.5 L67.6 205.4 L66.7 205.3 L65.9 205.3 L65.0 205.2 L64.1 205.1 L63.3 205.0 L62.4 205.0 L61.5 204.9 L60.7 204.8 L59.8 204.8 L58.9 204.7 L58.1 204.7 L57.2 204.6 L56.4 204.6 L55.5 204.5Z M96.3 204.8 L97.7 205.0 L99.1 205.2 L100.6 205.4 L102.1 205.6 L103.6 205.8 L105.1 206.1 L106.6 206.3 L108.2 206.5 L109.7 206.8 L111.3 207.0 L112.8 207.2 L114.3 207.5 L115.9 207.7 L117.3 208.0 L118.8 208.2 L120.3 208.5 L121.7 208.7 L123.2 209.0 L124.6 209.2 L126.1 209.5 L127.6 209.8 L129.1 210.0 L130.6 210.3 L132.1 210.6 L133.5 210.9 L135.0 211.2 L136.4 211.5 L137.9 211.8 L139.3 212.0 L140.7 212.3 L142.1 212.6 L141.4 215.7 L140.0 215.5 L138.7 215.2 L137.3 214.9 L135.8 214.6 L134.4 214.3 L132.9 214.0 L131.4 213.7 L130.0 213.4 L128.5 213.1 L127.0 212.9 L125.5 212.6 L124.1 212.3 L122.6 212.1 L121.2 211.8 L119.7 211.5 L118.3 211.3 L116.8 211.1 L115.3 210.8 L113.8 210.6 L112.3 210.3 L110.8 210.1 L109.2 209.8 L107.7 209.6 L106.2 209.4 L104.6 209.1 L103.1 208.9 L101.6 208.7 L100.2 208.5 L98.7 208.3 L97.3 208.1 L95.9 207.9Z M148.3 213.9 L149.5 214.2 L150.6 214.4 L151.6 214.6 L152.6 214.9 L153.6 215.1 L154.5 215.3 L155.4 215.6 L156.3 215.8 L157.2 216.0 L158.0 216.2 L158.9 216.4 L159.7 216.6 L160.5 216.9 L161.3 217.1 L162.1 217.3 L163.0 217.5 L163.8 217.7 L164.7 217.9 L165.5 218.2 L166.4 218.4 L167.3 218.6 L168.3 218.9 L169.2 219.1 L170.2 219.4 L171.2 219.6 L172.2 219.9 L173.2 220.2 L174.2 220.4 L175.2 220.7 L176.2 220.9 L177.2 221.2 L178.1 221.5 L179.1 221.7 L180.0 221.9 L180.8 222.2 L181.7 222.4 L182.5 222.6 L183.3 222.8 L184.0 223.0 L184.6 223.2 L183.8 226.4 L183.1 226.2 L182.4 226.1 L181.6 225.8 L180.8 225.6 L180.0 225.4 L179.1 225.2 L178.2 224.9 L177.3 224.7 L176.3 224.4 L175.3 224.2 L174.4 223.9 L173.4 223.6 L172.4 223.4 L171.4 223.1 L170.4 222.8 L169.4 222.6 L168.4 222.3 L167.4 222.1 L166.5 221.8 L165.6 221.6 L164.7 221.4 L163.8 221.1 L163.0 220.9 L162.1 220.7 L161.3 220.5 L160.5 220.3 L159.7 220.0 L158.8 219.8 L158.0 219.6 L157.2 219.4 L156.4 219.2 L155.5 218.9 L154.6 218.7 L153.7 218.5 L152.8 218.3 L151.9 218.0 L150.9 217.8 L149.8 217.6 L148.8 217.3 L147.7 217.1Z M192.2 225.2 L192.8 225.4 L193.4 225.7 L194.1 226.0 L194.8 226.3 L195.6 226.7 L196.3 227.0 L197.1 227.4 L197.9 227.8 L198.7 228.2 L199.5 228.6 L200.4 229.0 L201.2 229.4 L202.0 229.8 L202.9 230.3 L203.7 230.7 L204.6 231.1 L205.4 231.6 L206.3 232.0 L207.1 232.4 L207.9 232.9 L208.7 233.3 L209.5 233.7 L210.4 234.2 L211.2 234.6 L212.1 235.1 L213.0 235.5 L213.9 236.0 L214.8 236.5 L215.7 237.0 L216.6 237.4 L217.5 237.9 L218.3 238.4 L219.2 238.9 L220.0 239.3 L220.8 239.8 L221.6 240.3 L222.3 240.7 L223.0 241.2 L223.7 241.6 L224.3 242.1 L221.9 245.3 L221.3 244.9 L220.8 244.5 L220.2 244.0 L219.5 243.6 L218.8 243.1 L218.0 242.7 L217.2 242.2 L216.4 241.7 L215.6 241.3 L214.7 240.8 L213.9 240.3 L213.0 239.8 L212.1 239.3 L211.2 238.9 L210.3 238.4 L209.5 237.9 L208.6 237.5 L207.8 237.0 L206.9 236.6 L206.1 236.1 L205.3 235.7 L204.5 235.3 L203.7 234.9 L202.9 234.4 L202.0 234.0 L201.2 233.5 L200.4 233.1 L199.5 232.7 L198.7 232.2 L197.9 231.8 L197.1 231.4 L196.3 231.0 L195.5 230.6 L194.7 230.3 L194.0 229.9 L193.3 229.6 L192.6 229.3 L192.0 229.0 L191.4 228.7 L190.8 228.4Z M230.8 250.0 L231.1 250.3 L231.3 250.7 L231.6 251.1 L231.9 251.5 L232.2 251.8 L232.5 252.2 L232.7 252.6 L233.0 253.0 L233.3 253.4 L233.6 253.8 L233.9 254.2 L234.2 254.6 L234.5 255.0 L234.7 255.4 L235.0 255.8 L235.3 256.2 L235.5 256.6 L235.8 257.1 L236.0 257.5 L236.3 258.0 L236.5 258.4 L236.7 258.8 L236.8 259.2 L237.0 259.6 L237.2 260.1 L237.4 260.5 L237.5 260.9 L237.7 261.3 L237.8 261.8 L237.9 262.2 L238.0 262.6 L238.2 263.1 L238.3 263.5 L238.4 264.0 L238.4 264.5 L238.5 264.9 L238.6 265.4 L238.6 265.9 L238.6 266.4 L238.7 266.9 L238.7 267.4 L238.7 267.9 L238.7 268.5 L238.7 269.0 L238.7 269.5 L238.6 270.1 L238.6 270.6 L238.6 271.2 L238.5 271.7 L238.4 272.3 L238.3 272.9 L238.3 273.4 L238.2 274.0 L238.1 274.5 L237.9 275.1 L237.8 275.7 L237.7 276.2 L237.5 276.8 L237.3 277.3 L237.1 277.9 L236.9 278.4 L236.7 278.9 L236.5 279.5 L236.2 280.0 L236.0 280.5 L235.7 281.0 L235.5 281.5 L235.2 282.0 L234.9 282.5 L234.6 283.0 L234.3 283.5 L234.0 284.0 L233.7 284.5 L233.4 284.9 L233.1 285.4 L232.8 285.8 L232.5 286.3 L232.2 286.7 L231.9 287.1 L231.6 287.5 L231.2 287.9 L230.9 288.3 L230.6 288.7 L230.3 289.1 L229.9 289.5 L229.6 289.8 L229.3 290.2 L228.9 290.5 L228.6 290.9 L228.2 291.2 L227.9 291.5 L227.6 291.9 L227.2 292.2 L226.9 292.5 L226.5 292.8 L226.2 293.2 L225.8 293.5 L225.5 293.8 L225.1 294.2 L224.8 294.5 L221.4 290.9 L221.8 290.6 L222.2 290.2 L222.5 289.9 L222.9 289.6 L223.2 289.3 L223.5 289.0 L223.8 288.7 L224.2 288.4 L224.5 288.0 L224.8 287.7 L225.0 287.4 L225.3 287.1 L225.6 286.8 L225.9 286.5 L226.1 286.2 L226.4 285.9 L226.7 285.5 L226.9 285.2 L227.2 284.8 L227.4 284.5 L227.7 284.1 L228.0 283.7 L228.3 283.3 L228.5 282.9 L228.8 282.5 L229.1 282.1 L229.4 281.7 L229.6 281.2 L229.9 280.8 L230.1 280.4 L230.4 280.0 L230.6 279.5 L230.8 279.1 L231.0 278.7 L231.2 278.2 L231.4 277.8 L231.6 277.4 L231.8 277.0 L231.9 276.5 L232.1 276.1 L232.2 275.7 L232.3 275.3 L232.4 274.8 L232.5 274.4 L232.7 273.9 L232.7 273.5 L232.8 273.0 L232.9 272.5 L233.0 272.1 L233.1 271.6 L233.1 271.1 L233.2 270.6 L233.2 270.2 L233.3 269.7 L233.3 269.2 L233.3 268.8 L233.3 268.4 L233.3 267.9 L233.3 267.5 L233.3 267.1 L233.3 266.7 L233.3 266.3 L233.3 266.0 L233.2 265.6 L233.2 265.2 L233.1 264.9 L233.1 264.5 L233.0 264.2 L233.0 263.9 L232.9 263.5 L232.8 263.2 L232.7 262.8 L232.6 262.5 L232.5 262.2 L232.4 261.8 L232.3 261.5 L232.2 261.1 L232.0 260.8 L231.9 260.4 L231.7 260.0 L231.6 259.7 L231.4 259.4 L231.3 259.0 L231.1 258.7 L230.9 258.3 L230.7 257.9 L230.5 257.6 L230.2 257.2 L230.0 256.8 L229.8 256.5 L229.5 256.1 L229.2 255.7 L229.0 255.4 L228.7 255.0 L228.4 254.6 L228.1 254.2 L227.9 253.8 L227.6 253.4 L227.3 253.0 L227.0 252.6Z M216.1 301.6 L215.4 302.1 L214.6 302.6 L213.8 303.1 L212.9 303.7 L212.0 304.2 L211.1 304.8 L210.2 305.3 L209.2 305.9 L208.2 306.5 L207.2 307.1 L206.2 307.7 L205.2 308.3 L204.2 308.9 L203.1 309.5 L202.1 310.1 L201.1 310.7 L200.1 311.3 L199.1 311.9 L198.2 312.5 L197.2 313.0 L196.3 313.6 L195.4 314.2 L194.4 314.8 L193.4 315.4 L192.4 316.0 L191.5 316.6 L190.5 317.3 L189.5 317.9 L188.5 318.5 L187.5 319.1 L186.6 319.7 L185.6 320.3 L184.7 320.9 L183.8 321.5 L182.9 322.1 L182.0 322.7 L181.2 323.2 L180.4 323.8 L179.6 324.3 L178.8 324.8 L176.0 320.6 L176.8 320.1 L177.6 319.5 L178.4 319.0 L179.3 318.4 L180.2 317.9 L181.1 317.3 L182.0 316.7 L183.0 316.1 L184.0 315.5 L184.9 314.9 L185.9 314.3 L186.9 313.7 L187.9 313.1 L188.9 312.5 L189.9 311.9 L190.9 311.3 L191.9 310.7 L192.8 310.1 L193.8 309.5 L194.8 309.0 L195.7 308.4 L196.7 307.8 L197.7 307.2 L198.7 306.6 L199.7 306.0 L200.8 305.4 L201.8 304.8 L202.8 304.2 L203.9 303.6 L204.9 303.0 L205.9 302.5 L206.8 301.9 L207.8 301.3 L208.7 300.8 L209.6 300.2 L210.5 299.7 L211.3 299.2 L212.1 298.7 L212.8 298.2 L213.5 297.8Z M167.3 333.5 L166.3 334.1 L165.2 334.8 L164.0 335.4 L162.9 336.1 L161.6 336.8 L160.3 337.5 L159.0 338.3 L157.6 339.0 L156.2 339.8 L154.8 340.6 L153.4 341.3 L152.0 342.1 L150.6 342.9 L149.2 343.7 L147.8 344.4 L146.4 345.2 L145.1 345.9 L143.8 346.7 L142.5 347.4 L141.3 348.1 L140.2 348.8 L139.0 349.4 L137.8 350.1 L136.6 350.8 L135.4 351.4 L134.3 352.1 L133.1 352.8 L132.0 353.4 L130.8 354.1 L129.7 354.7 L128.6 355.3 L127.6 356.0 L126.6 356.6 L125.6 357.2 L124.6 357.8 L123.7 358.4 L122.8 359.0 L122.0 359.5 L121.2 360.1 L120.4 360.6 L117.0 355.8 L117.8 355.2 L118.7 354.6 L119.7 354.1 L120.6 353.5 L121.6 352.9 L122.6 352.3 L123.7 351.7 L124.7 351.1 L125.8 350.5 L126.9 349.8 L128.1 349.2 L129.2 348.6 L130.4 347.9 L131.6 347.3 L132.7 346.6 L133.9 346.0 L135.1 345.3 L136.3 344.7 L137.5 344.0 L138.7 343.3 L139.9 342.6 L141.2 341.9 L142.5 341.2 L143.8 340.5 L145.2 339.7 L146.6 339.0 L148.0 338.2 L149.5 337.5 L150.9 336.7 L152.3 335.9 L153.7 335.2 L155.1 334.4 L156.5 333.7 L157.8 333.0 L159.1 332.3 L160.3 331.6 L161.5 330.9 L162.6 330.3 L163.6 329.7 L164.5 329.1Z M111.1 370.0 L110.5 370.5 L109.8 371.1 L109.1 371.6 L108.4 372.1 L107.7 372.6 L107.0 373.1 L106.4 373.6 L105.7 374.2 L105.0 374.7 L104.3 375.2 L103.6 375.7 L102.9 376.2 L102.3 376.7 L101.6 377.3 L101.0 377.8 L100.5 378.3 L99.9 378.8 L99.4 379.3 L98.9 379.9 L98.5 380.4 L98.1 380.9 L97.6 381.4 L97.2 382.0 L96.8 382.5 L96.4 383.1 L96.0 383.7 L95.6 384.2 L95.3 384.8 L94.9 385.4 L94.6 385.9 L94.2 386.5 L93.9 387.1 L93.6 387.7 L93.2 388.3 L92.9 388.8 L92.6 389.4 L92.4 390.0 L92.1 390.6 L91.8 391.2 L91.5 391.7 L91.3 392.3 L91.1 392.8 L90.8 393.4 L90.6 394.0 L90.4 394.5 L90.2 395.1 L90.0 395.6 L89.9 396.2 L89.7 396.7 L89.5 397.3 L89.4 397.8 L89.3 398.4 L89.1 398.9 L89.0 399.4 L88.9 400.0 L88.8 400.5 L88.8 401.0 L88.7 401.5 L88.7 402.0 L88.6 402.5 L88.6 402.9 L88.6 403.4 L88.6 403.8 L88.6 404.3 L88.6 404.8 L88.6 405.2 L88.7 405.7 L88.7 406.1 L88.8 406.6 L88.9 407.1 L88.9 407.5 L89.0 408.0 L89.1 408.5 L89.2 408.9 L89.3 409.4 L89.4 409.9 L89.5 410.4 L89.7 410.8 L89.8 411.3 L89.9 411.8 L90.1 412.4 L90.3 412.9 L90.4 413.4 L90.5 413.9 L90.7 414.3 L90.8 414.7 L90.9 415.1 L91.0 415.5 L91.1 415.9 L91.2 416.3 L91.4 416.6 L91.5 416.9 L91.6 417.3 L91.8 417.7 L92.0 418.0 L92.2 418.4 L92.4 418.8 L92.7 419.2 L93.0 419.7 L93.3 420.1 L86.7 425.9 L86.1 425.2 L85.6 424.6 L85.1 423.9 L84.6 423.3 L84.2 422.7 L83.8 422.0 L83.4 421.4 L83.1 420.8 L82.8 420.2 L82.5 419.5 L82.3 418.9 L82.1 418.4 L81.9 417.8 L81.8 417.2 L81.6 416.7 L81.5 416.2 L81.4 415.7 L81.3 415.2 L81.2 414.7 L81.1 414.2 L80.9 413.6 L80.8 413.1 L80.7 412.5 L80.5 411.9 L80.4 411.3 L80.3 410.7 L80.2 410.1 L80.1 409.5 L80.0 408.8 L79.9 408.2 L79.9 407.6 L79.8 406.9 L79.8 406.3 L79.7 405.6 L79.7 404.9 L79.7 404.3 L79.8 403.6 L79.8 402.9 L79.9 402.2 L80.0 401.5 L80.1 400.9 L80.2 400.2 L80.3 399.5 L80.5 398.8 L80.6 398.2 L80.8 397.5 L81.0 396.8 L81.2 396.2 L81.4 395.5 L81.6 394.8 L81.9 394.2 L82.1 393.5 L82.4 392.8 L82.6 392.2 L82.9 391.5 L83.2 390.9 L83.5 390.2 L83.8 389.6 L84.1 388.9 L84.5 388.3 L84.8 387.6 L85.1 387.0 L85.5 386.4 L85.8 385.7 L86.2 385.1 L86.6 384.4 L87.0 383.8 L87.4 383.2 L87.8 382.5 L88.3 381.9 L88.7 381.2 L89.2 380.6 L89.7 379.9 L90.2 379.3 L90.7 378.7 L91.2 378.1 L91.8 377.4 L92.3 376.8 L92.9 376.2 L93.5 375.6 L94.1 375.0 L94.8 374.4 L95.5 373.9 L96.2 373.3 L96.9 372.7 L97.6 372.2 L98.3 371.7 L99.1 371.1 L99.8 370.6 L100.5 370.1 L101.2 369.6 L101.9 369.1 L102.6 368.6 L103.3 368.1 L104.0 367.6 L104.6 367.1 L105.2 366.6 L105.8 366.1 L106.4 365.6 L106.9 365.2Z M107.2 432.0 L107.8 432.5 L108.5 432.9 L109.1 433.2 L109.7 433.6 L110.4 433.9 L111.0 434.2 L111.6 434.5 L112.3 434.8 L112.9 435.1 L113.6 435.3 L114.3 435.6 L115.0 435.8 L115.7 436.0 L116.4 436.3 L117.2 436.5 L117.9 436.7 L118.7 437.0 L119.5 437.2 L120.4 437.5 L121.2 437.7 L122.0 438.0 L122.9 438.3 L123.7 438.5 L124.5 438.8 L125.3 439.0 L126.1 439.3 L126.9 439.5 L127.7 439.7 L128.5 440.0 L129.3 440.2 L130.2 440.4 L131.1 440.7 L132.0 440.9 L132.9 441.2 L133.9 441.4 L134.9 441.6 L136.0 441.9 L137.1 442.1 L138.2 442.4 L139.4 442.6 L140.7 442.9 L142.0 443.2 L143.3 443.4 L144.7 443.7 L146.1 444.0 L147.6 444.3 L149.1 444.6 L150.6 444.9 L152.1 445.1 L153.7 445.4 L155.3 445.7 L156.9 446.0 L158.5 446.3 L160.2 446.5 L158.9 454.4 L157.2 454.1 L155.5 453.8 L153.9 453.6 L152.2 453.3 L150.7 453.0 L149.1 452.7 L147.5 452.4 L146.0 452.1 L144.6 451.8 L143.1 451.5 L141.7 451.2 L140.4 450.9 L139.1 450.6 L137.8 450.4 L136.5 450.1 L135.4 449.8 L134.2 449.6 L133.1 449.3 L132.0 449.1 L131.0 448.8 L130.0 448.6 L129.1 448.3 L128.1 448.1 L127.2 447.8 L126.3 447.6 L125.5 447.3 L124.6 447.1 L123.8 446.8 L122.9 446.6 L122.1 446.3 L121.3 446.1 L120.5 445.8 L119.6 445.5 L118.8 445.3 L118.0 445.0 L117.2 444.7 L116.4 444.5 L115.6 444.2 L114.8 444.0 L114.1 443.7 L113.3 443.5 L112.5 443.2 L111.7 443.0 L111.0 442.7 L110.2 442.5 L109.4 442.2 L108.6 441.9 L107.8 441.6 L107.0 441.2 L106.2 440.9 L105.3 440.5 L104.5 440.1 L103.7 439.6 L102.8 439.2Z M231.2 452.6 L233.2 452.7 L235.3 452.8 L237.3 452.9 L239.3 453.0 L241.3 453.0 L243.2 453.1 L245.0 453.2 L246.8 453.3 L248.5 453.4 L250.2 453.4 L251.7 453.5 L253.1 453.6 L254.4 453.6 L255.6 453.7 L256.7 453.7 L257.7 453.7 L258.6 453.8 L259.6 453.8 L260.5 453.9 L261.4 453.9 L262.4 453.9 L263.4 454.0 L264.4 454.0 L265.5 454.0 L266.7 454.1 L268.0 454.1 L269.5 454.2 L271.0 454.2 L272.8 454.3 L274.7 454.4 L276.8 454.5 L279.1 454.6 L281.6 454.7 L284.2 454.8 L287.0 454.9 L289.9 455.0 L292.9 455.1 L296.0 455.2 L299.1 455.4 L302.3 455.5 L305.4 455.6 L308.5 455.7 L311.6 455.9 L314.7 456.0 L317.6 456.1 L320.4 456.3 L323.1 456.4 L325.7 456.5 L328.1 456.6 L330.3 456.8 L329.7 465.2 L327.6 465.1 L325.2 465.0 L322.7 464.8 L320.0 464.7 L317.2 464.5 L314.3 464.4 L311.3 464.2 L308.2 464.1 L305.1 463.9 L301.9 463.8 L298.8 463.7 L295.7 463.5 L292.6 463.4 L289.6 463.3 L286.7 463.1 L283.9 463.0 L281.2 462.9 L278.8 462.8 L276.4 462.7 L274.3 462.6 L272.4 462.5 L270.7 462.4 L269.1 462.4 L267.7 462.3 L266.4 462.3 L265.2 462.2 L264.1 462.2 L263.1 462.1 L262.1 462.1 L261.1 462.0 L260.2 462.0 L259.3 462.0 L258.3 461.9 L257.4 461.9 L256.3 461.9 L255.2 461.8 L254.0 461.8 L252.8 461.7 L251.4 461.6 L249.8 461.6 L248.2 461.5 L246.4 461.4 L244.7 461.3 L242.8 461.3 L240.9 461.2 L239.0 461.1 L237.0 461.0 L234.9 460.9 L232.9 460.8 L230.8 460.7Z M357.5 459.3 L359.2 459.5 L361.0 459.7 L362.9 459.9 L364.8 460.2 L366.8 460.4 L368.8 460.6 L370.8 460.9 L372.9 461.1 L375.0 461.4 L377.1 461.6 L379.3 461.9 L381.4 462.1 L383.6 462.4 L385.7 462.7 L387.8 463.0 L390.0 463.2 L392.1 463.5 L394.1 463.8 L396.2 464.1 L398.2 464.4 L400.2 464.7 L402.2 464.9 L404.2 465.2 L406.3 465.5 L408.3 465.9 L410.4 466.2 L412.4 466.5 L414.5 466.8 L416.5 467.1 L418.5 467.5 L420.5 467.8 L422.5 468.1 L424.4 468.4 L426.3 468.8 L428.2 469.1 L430.0 469.4 L431.8 469.8 L433.6 470.1 L435.2 470.4 L436.9 470.7 L438.5 471.1 L440.0 471.4 L441.5 471.8 L442.9 472.1 L444.3 472.4 L445.7 472.8 L447.0 473.1 L448.3 473.5 L449.5 473.8 L450.7 474.1 L451.9 474.5 L453.1 474.8 L454.2 475.2 L455.3 475.5 L456.4 475.8 L457.4 476.2 L458.5 476.5 L459.5 476.8 L460.6 477.1 L461.6 477.4 L462.6 477.8 L463.6 478.1 L464.6 478.4 L465.6 478.7 L466.6 479.0 L467.5 479.3 L468.4 479.6 L469.3 479.9 L470.2 480.2 L471.1 480.5 L471.9 480.8 L472.8 481.0 L473.6 481.3 L474.4 481.6 L475.2 481.9 L476.0 482.2 L476.8 482.5 L477.6 482.8 L478.3 483.1 L479.1 483.4 L479.8 483.7 L480.6 483.9 L481.3 484.2 L481.9 484.5 L482.6 484.8 L483.3 485.1 L483.9 485.3 L484.6 485.6 L485.2 485.9 L485.9 486.1 L486.5 486.4 L487.1 486.7 L487.7 487.0 L488.3 487.3 L488.9 487.6 L489.5 487.9 L490.2 488.2 L490.8 488.5 L491.4 488.8 L492.0 489.2 L486.0 499.4 L485.5 499.1 L485.0 498.8 L484.4 498.5 L483.9 498.2 L483.4 497.9 L482.9 497.6 L482.4 497.3 L481.9 497.0 L481.4 496.7 L480.9 496.4 L480.4 496.2 L479.8 495.9 L479.3 495.6 L478.7 495.3 L478.1 495.1 L477.5 494.8 L476.9 494.5 L476.3 494.2 L475.6 493.9 L474.9 493.6 L474.2 493.3 L473.5 493.0 L472.8 492.7 L472.1 492.4 L471.3 492.1 L470.6 491.9 L469.8 491.6 L469.0 491.3 L468.3 491.0 L467.5 490.7 L466.6 490.4 L465.8 490.1 L465.0 489.8 L464.1 489.4 L463.2 489.1 L462.3 488.8 L461.4 488.5 L460.4 488.2 L459.4 487.9 L458.4 487.6 L457.4 487.2 L456.3 486.9 L455.3 486.6 L454.2 486.2 L453.2 485.9 L452.1 485.5 L451.1 485.2 L450.0 484.8 L448.9 484.5 L447.7 484.1 L446.6 483.8 L445.4 483.4 L444.2 483.1 L443.0 482.7 L441.7 482.4 L440.4 482.0 L439.1 481.7 L437.7 481.3 L436.2 481.0 L434.7 480.7 L433.2 480.3 L431.5 480.0 L429.9 479.6 L428.1 479.2 L426.3 478.9 L424.5 478.5 L422.6 478.1 L420.7 477.8 L418.8 477.4 L416.8 477.1 L414.9 476.7 L412.9 476.3 L410.8 476.0 L408.8 475.6 L406.8 475.3 L404.8 474.9 L402.8 474.6 L400.8 474.3 L398.8 474.0 L396.8 473.6 L394.8 473.3 L392.8 473.0 L390.8 472.7 L388.7 472.4 L386.6 472.1 L384.5 471.8 L382.3 471.5 L380.2 471.2 L378.1 470.9 L376.0 470.6 L373.9 470.3 L371.8 470.0 L369.7 469.8 L367.7 469.5 L365.7 469.2 L363.7 469.0 L361.8 468.7 L360.0 468.5 L358.2 468.3 L356.5 468.1Z M525.1 515.7 L525.6 516.4 L526.2 517.1 L526.7 517.8 L527.2 518.6 L527.7 519.3 L528.2 520.1 L528.7 520.9 L529.2 521.7 L529.7 522.5 L530.1 523.3 L530.6 524.1 L531.0 524.9 L531.5 525.8 L531.9 526.6 L532.3 527.4 L532.8 528.3 L533.2 529.1 L533.6 529.9 L534.0 530.8 L534.4 531.6 L534.8 532.5 L535.3 533.4 L535.7 534.2 L536.1 535.1 L536.5 536.0 L536.9 537.0 L537.3 537.9 L537.7 538.8 L538.1 539.7 L538.5 540.7 L538.9 541.6 L539.3 542.6 L539.7 543.5 L540.1 544.5 L540.5 545.5 L540.9 546.4 L541.2 547.4 L541.6 548.4 L541.9 549.3 L542.3 550.3 L542.6 551.3 L543.0 552.3 L543.3 553.3 L543.6 554.3 L543.9 555.3 L544.2 556.3 L544.5 557.3 L544.8 558.3 L545.1 559.3 L545.4 560.3 L545.7 561.3 L545.9 562.3 L546.2 563.3 L546.4 564.3 L546.7 565.3 L546.9 566.3 L547.2 567.3 L547.4 568.2 L547.6 569.2 L547.8 570.1 L548.0 570.9 L548.2 571.7 L548.3 572.4 L548.5 573.1 L548.7 573.8 L548.9 574.5 L549.0 575.3 L549.2 576.0 L549.4 576.8 L549.6 577.6 L549.8 578.5 L549.9 579.4 L550.1 580.3 L550.3 581.3 L550.4 582.4 L550.5 583.5 L550.6 584.6 L550.7 585.9 L550.8 587.2 L550.9 588.6 L551.0 590.1 L551.1 591.8 L551.1 593.6 L551.1 595.4 L551.1 597.4 L551.2 599.4 L551.2 601.4 L551.2 603.6 L551.2 605.7 L551.1 607.8 L551.1 609.9 L551.1 612.0 L551.1 614.1 L551.1 616.1 L551.0 618.1 L551.0 619.9 L551.0 621.6 L551.0 623.3 L551.0 624.7 L551.0 626.0 L551.0 627.3 L551.0 628.4 L551.0 629.5 L551.0 630.5 L551.0 631.5 L551.0 632.3 L551.0 633.2 L551.0 633.9 L551.0 634.6 L551.0 635.3 L551.0 635.9 L551.0 636.5 L551.0 637.0 L551.0 637.5 L551.0 638.0 L551.0 638.4 L551.0 638.9 L551.0 639.2 L551.0 639.6 L551.0 640.0 L532.0 640.0 L532.0 639.7 L532.0 639.3 L532.0 638.9 L532.0 638.5 L532.0 638.1 L532.0 637.6 L532.0 637.1 L532.0 636.5 L532.0 636.0 L532.0 635.3 L532.0 634.7 L532.0 633.9 L532.0 633.2 L532.0 632.3 L532.0 631.4 L532.0 630.5 L532.0 629.5 L532.0 628.4 L532.0 627.2 L532.0 626.0 L532.0 624.6 L532.0 623.0 L532.1 621.4 L532.1 619.6 L532.2 617.7 L532.2 615.8 L532.3 613.8 L532.3 611.7 L532.4 609.7 L532.4 607.6 L532.4 605.5 L532.5 603.4 L532.5 601.3 L532.5 599.3 L532.6 597.4 L532.6 595.5 L532.6 593.8 L532.5 592.2 L532.5 590.7 L532.5 589.4 L532.4 588.2 L532.4 587.1 L532.3 586.1 L532.2 585.2 L532.2 584.4 L532.1 583.7 L532.0 583.0 L531.9 582.3 L531.9 581.7 L531.8 581.1 L531.7 580.5 L531.6 579.9 L531.4 579.3 L531.3 578.7 L531.1 578.0 L531.0 577.3 L530.8 576.5 L530.6 575.7 L530.4 574.8 L530.2 573.9 L530.0 573.0 L529.8 572.1 L529.6 571.2 L529.4 570.3 L529.2 569.4 L529.0 568.5 L528.8 567.6 L528.6 566.7 L528.4 565.7 L528.2 564.8 L527.9 563.9 L527.7 562.9 L527.5 562.0 L527.2 561.1 L527.0 560.2 L526.7 559.3 L526.5 558.4 L526.2 557.5 L526.0 556.6 L525.7 555.7 L525.4 554.8 L525.2 553.9 L524.9 553.0 L524.6 552.1 L524.3 551.3 L524.0 550.4 L523.7 549.5 L523.4 548.6 L523.1 547.7 L522.8 546.8 L522.5 545.9 L522.2 545.1 L521.9 544.2 L521.5 543.3 L521.2 542.5 L520.9 541.6 L520.6 540.8 L520.2 540.0 L519.9 539.2 L519.6 538.4 L519.2 537.6 L518.9 536.8 L518.5 536.0 L518.2 535.2 L517.8 534.4 L517.5 533.6 L517.2 532.8 L516.8 532.1 L516.5 531.3 L516.1 530.6 L515.8 529.9 L515.4 529.2 L515.1 528.5 L514.8 527.8 L514.5 527.2 L514.1 526.6 L513.8 526.0 L513.5 525.4 L513.2 524.8 L512.9 524.3Z" fill="#fff"/>
<ellipse cx="96.0" cy="181.0" rx="11.0" ry="4.5" fill="#6c9f44"/><rect x="95.8" y="169.2" width="3.6" height="18.6" rx="1.8" fill="#8b562b"/><circle cx="97.6" cy="169.2" r="11.0" fill="#c4e85e"/>
<ellipse cx="124.0" cy="189.0" rx="11.0" ry="4.5" fill="#6c9f44"/><rect x="124.0" y="176.8" width="3.6" height="18.7" rx="1.8" fill="#8b562b"/><circle cx="125.8" cy="176.8" r="11.0" fill="#c4e85e"/>
<ellipse cx="416.9" cy="303.0" rx="18.3" ry="8.0" fill="#6c9f44"/><rect x="415.3" y="289.0" width="4.8" height="29.5" rx="2.2" fill="#8b562b"/><circle cx="417.7" cy="289.0" r="17.7" fill="#c4e85e"/>
<ellipse cx="389.0" cy="338.3" rx="18.3" ry="8.0" fill="#6c9f44"/><rect x="387.6" y="321.7" width="4.8" height="29.7" rx="2.2" fill="#8b562b"/><circle cx="390.0" cy="321.7" r="17.7" fill="#c4e85e"/>
<ellipse cx="436.8" cy="349.7" rx="18.3" ry="8.0" fill="#6c9f44"/><rect x="435.9" y="335.2" width="4.8" height="29.4" rx="2.2" fill="#8b562b"/><circle cx="438.3" cy="335.2" r="17.7" fill="#c4e85e"/>
<ellipse cx="70.5" cy="519.0" rx="24.3" ry="10.2" fill="#6c9f44"/><rect x="73.1" y="495.6" width="6.6" height="40.9" rx="2.2" fill="#8b562b"/><circle cx="76.4" cy="495.6" r="24.8" fill="#c4e85e"/>
<ellipse cx="104.6" cy="572.0" rx="23.5" ry="10.8" fill="#6c9f44"/><rect x="107.9" y="549.0" width="6.6" height="41.5" rx="2.2" fill="#8b562b"/><circle cx="111.2" cy="549.0" r="24.9" fill="#c4e85e"/>
<ellipse cx="51.0" cy="588.0" rx="24.5" ry="9.5" fill="#6c9f44"/><rect x="53.7" y="562.3" width="6.6" height="41.4" rx="2.2" fill="#8b562b"/><circle cx="57.0" cy="562.3" r="25.0" fill="#c4e85e"/>
<path d="M45.5 252.2 L127.8 252.2 L140 261.4 L127.8 270.6 L53.7 270.6Z M85.5 270 L92 270 L92 288Z" fill="#6c9f44"/>
<path d="M91.2 250 L103.5 250 L103.5 286 Q103.5 289.5 97.3 289.5 Q91.2 289.5 91.2 286Z" fill="#82622f"/>
<path d="M58.1 208 L130.7 208 L149.5 229.2 L130.7 250.5 L58.1 250.5Z" fill="#b3e05a"/>
<path d="M62.3 212.6 L128.8 212.6 L142.8 229.2 L128.8 245.7 L62.3 245.7Z" fill="#fff"/>
<text font-family="Liberation Sans, Arial, sans-serif" font-weight="700" fill="#58595b" text-anchor="middle" stroke="#fff" stroke-width=".2" font-size="9.9" x="99.6" y="228.5" textLength="62.3" lengthAdjust="spacingAndGlyphs">YOUR SAMPLE</text>
<text font-family="Liberation Sans, Arial, sans-serif" font-weight="700" fill="#58595b" text-anchor="middle" stroke="#fff" stroke-width=".2" font-size="9.9" x="99.8" y="239.4" textLength="47.3" lengthAdjust="spacingAndGlyphs">TEXT HERE</text>
<path d="M149.5 196 L156 194.5 L157 203.5 L150.5 203Z" fill="#6c9f44"/><path d="M151 203 L158 203 L226 223.8 L238 232.5 L222 229.5 L157 209Z" fill="#45484e"/><g transform="translate(168.3 206.6) rotate(17.3)"><rect x="55.5" y="-22.5" width="5.5" height="18" rx="2" fill="#ee8f2e"/><clipPath id="obody"><path d="M-15.8 -2.5 L-16 -12 Q-16 -15.5 -12.5 -15.8 L6 -18 L14.5 -28.2 Q15.5 -29.3 17.5 -29.3 L52.5 -28.3 Q56.3 -28 56.6 -24.5 L57.6 -3.5 L-15.8 -2.5Z"/></clipPath><path d="M-15.8 -2.5 L-16 -12 Q-16 -15.5 -12.5 -15.8 L6 -18 L14.5 -28.2 Q15.5 -29.3 17.5 -29.3 L52.5 -28.3 Q56.3 -28 56.6 -24.5 L57.6 -3.5 L-15.8 -2.5Z" fill="#f8a540"/><g clip-path="url(#obody)"><rect x="-20" y="-9.5" width="80" height="8" fill="#ee8f2e"/><circle cx="0" cy="0" r="9.6" fill="#ee8f2e"/><circle cx="40.6" cy="0" r="9.6" fill="#ee8f2e"/></g><path d="M8.3 -18.2 L15.3 -26.7 L18.6 -26.7 L17.6 -17Z" fill="#c5e8f7"/><path d="M20.6 -26.8 L35.4 -26.5 L35.6 -15.8 L19.8 -16.8Z" fill="#c5e8f7"/><path d="M38 -26.4 L52.8 -26 L53.8 -14.8 L38 -15.6Z" fill="#c5e8f7"/><rect x="14" y="-15.6" width="5" height="1.6" rx=".8" fill="#ee8f2e"/><rect x="32" y="-14.6" width="5" height="1.6" rx=".8" fill="#ee8f2e"/><ellipse cx="-12.8" cy="-11.8" rx="2.2" ry="3" fill="#fdf3dc"/><circle cx="0" cy="0" r="7.3" fill="#8e8e96"/><circle cx="0" cy="0" r="4.8" fill="#d5d5dc"/><circle cx="40.6" cy="0" r="7.3" fill="#8e8e96"/><circle cx="40.6" cy="0" r="4.8" fill="#d5d5dc"/></g>
<path d="M232 210 L309 210 Q313.5 210 314.3 214 L316.6 228 Q317.2 232 313 232 L240 232 Q235 232 233 228Z" fill="#6c9f44"/>
<path d="M266.6 208.5 L291.2 208.5 L279.1 245Z" fill="#f6a74b"/>
<rect x="234.7" y="163.5" width="87.5" height="45.9" rx="6.5" fill="#f6a74b"/>
<rect x="238.2" y="167" width="80.5" height="39.2" rx="4" fill="#fff"/>
<path d="M270.7 205 L287.3 205 L279.1 236.4Z" fill="#fff"/>
<text font-family="Liberation Sans, Arial, sans-serif" font-weight="700" fill="#58595b" text-anchor="middle" stroke="#fff" stroke-width=".2" font-size="8.9" x="277.3" y="182.3" textLength="50.3" lengthAdjust="spacingAndGlyphs">HERE PLACE</text>
<text font-family="Liberation Sans, Arial, sans-serif" font-weight="700" fill="#58595b" text-anchor="middle" stroke="#fff" stroke-width=".2" font-size="8.9" x="277.3" y="192.4" textLength="59.3" lengthAdjust="spacingAndGlyphs">YOUR SAMPLE</text>
<text font-family="Liberation Sans, Arial, sans-serif" font-weight="700" fill="#58595b" text-anchor="middle" stroke="#fff" stroke-width=".2" font-size="8.9" x="276.8" y="202.4" textLength="20" lengthAdjust="spacingAndGlyphs">TEXT</text>
<ellipse cx="282.6" cy="355.7" rx="50" ry="17.5" fill="#6c9f44"/>
<path d="M287.7 350 L301.3 350 L301.3 386 Q301.3 389.7 294.5 389.7 Q287.7 389.7 287.7 386Z" fill="#82622f"/>
<circle cx="294.8" cy="305" r="50.5" fill="#b3e05a"/>
<circle cx="294.7" cy="305.2" r="43" fill="#fff"/>
<text font-family="Liberation Sans, Arial, sans-serif" font-weight="700" fill="#58595b" text-anchor="middle" stroke="#fff" stroke-width=".2" font-size="12.6" x="294.9" y="297.1">YOUR</text>
<text font-family="Liberation Sans, Arial, sans-serif" font-weight="700" fill="#58595b" text-anchor="middle" stroke="#fff" stroke-width=".2" font-size="12.6" x="294.8" y="312.9" textLength="53.3" lengthAdjust="spacingAndGlyphs">SAMPLE</text>
<text font-family="Liberation Sans, Arial, sans-serif" font-weight="700" fill="#58595b" text-anchor="middle" stroke="#fff" stroke-width=".2" font-size="12.6" x="295.3" y="328.5">TEXT</text>
<path d="M344.8 416.3 L362 416.3 L364.5 423.2 L345.7 423.2Z" fill="#6c9f44"/><path d="M345.7 422 L364 423 L537 461 L526 475 L352 435.8Z" fill="#45484e"/><g transform="translate(398.9 439.9) rotate(12.1)"><clipPath id="rbody"><path d="M-37 -3 L-39.8 -21 Q-40.5 -31.5 -31 -34 L5 -45 Q9 -46 12 -49 L28 -66 Q35 -74.5 46 -75.5 L93 -73.5 Q110 -72 120 -58 L133 -36 Q137 -29 137 -21 L136.5 -6 Q136.5 -3 133 -3 L-34 -3Z"/></clipPath><path d="M-37 -3 L-39.8 -21 Q-40.5 -31.5 -31 -34 L5 -45 Q9 -46 12 -49 L28 -66 Q35 -74.5 46 -75.5 L93 -73.5 Q110 -72 120 -58 L133 -36 Q137 -29 137 -21 L136.5 -6 Q136.5 -3 133 -3 L-34 -3Z" fill="#f0654a"/><g clip-path="url(#rbody)"><rect x="-45" y="-14" width="190" height="12" fill="#dc4f37"/><circle cx="0" cy="0" r="23" fill="#dc4f37"/><circle cx="98.7" cy="0" r="23" fill="#dc4f37"/><ellipse cx="-34" cy="-24.5" rx="6.5" ry="8" fill="#fbc02d"/></g><path d="M13 -46 L31 -65 Q35 -69.3 41 -69.8 L45.5 -70.2 L46 -43.3Z" fill="#c5e8f7"/><path d="M50 -70.2 L88.5 -70.4 L89.3 -43.7 L50.3 -43.5Z" fill="#c5e8f7"/><path d="M92.5 -69.6 Q108 -68 115 -58 L123 -46 L93.7 -43.3Z" fill="#c5e8f7"/><rect x="5" y="-48.5" width="9.5" height="4.6" rx="2" fill="#dc4f37"/><rect x="40" y="-39.5" width="8" height="3.4" rx="1.7" fill="#dc4f37"/><rect x="80.5" y="-39.5" width="8" height="3.4" rx="1.7" fill="#dc4f37"/><circle cx="0" cy="0" r="18.2" fill="#8e8e96"/><circle cx="0" cy="0" r="12.6" fill="#dcdce1"/><circle cx="98.7" cy="0" r="18.2" fill="#8e8e96"/><circle cx="98.7" cy="0" r="12.6" fill="#dcdce1"/></g>
<ellipse cx="187.5" cy="525.5" rx="69.5" ry="28.5" fill="#6c9f44"/>
<path d="M158 549 L208.7 583 L229 548Z" fill="#6c9f44"/>
<circle cx="208.6" cy="435" r="68.2" fill="#6cc4e3"/>
<path d="M170 489 Q181 497.5 183.2 505.5 L208.7 582.8 L234.2 505.5 Q236.4 497.5 247.4 489Z" fill="#6cc4e3"/>
<circle cx="208.6" cy="435" r="57" fill="#fff"/>
<path d="M178 480 Q190 491 191.8 499.5 L208.4 566.3 L225.6 499.5 Q227.4 491 239.4 480Z" fill="#fff"/>
<text font-family="Liberation Sans, Arial, sans-serif" font-weight="700" fill="#58595b" text-anchor="middle" stroke="#fff" stroke-width=".2" font-size="14.4" x="208.8" y="427.8" textLength="82.3" lengthAdjust="spacingAndGlyphs">SPACE FOR</text>
<text font-family="Liberation Sans, Arial, sans-serif" font-weight="700" fill="#58595b" text-anchor="middle" stroke="#fff" stroke-width=".2" font-size="14.4" x="209.5" y="446.3" textLength="105.5" lengthAdjust="spacingAndGlyphs">YOUR SAMPLE</text>
<text font-family="Liberation Sans, Arial, sans-serif" font-weight="700" fill="#58595b" text-anchor="middle" stroke="#fff" stroke-width=".2" font-size="14.4" x="208.8" y="465.1">TEXT</text>
<text font-family="Liberation Sans, Arial, sans-serif" font-weight="700" fill="#fff" font-size="14.6" x="140.9" y="606.8" textLength="81.6" lengthAdjust="spacingAndGlyphs">designed by</text>
<text font-family="Liberation Sans, Arial, sans-serif" font-weight="700" fill="#fff" font-size="14.6" x="246" y="606.8" textLength="82.3" lengthAdjust="spacingAndGlyphs">freepik.com</text>
<g fill="#fff"><path d="M227.2 598.3 Q228 595 235 594.6 Q242.6 595 243.2 598.3 Q243.4 603.5 240.2 606.3 Q237.6 608 235 608 Q232 608 229.8 606.3 Q226.8 603.5 227.2 598.3Z"/><path d="M233.6 595.4 L234.6 591.4 L236 595.4Z"/><path d="M227.5 598.5 L226 596 L229.5 596.6Z"/><path d="M242.6 598 L244.2 594.8 L240.8 596.2Z"/></g>
<g fill="#85bb55"><ellipse cx="232.2" cy="599.3" rx="1.7" ry="1.5"/><ellipse cx="239" cy="599" rx="1.5" ry="1.3"/><path d="M229.6 603.3 Q235 605.6 240.8 603 L240.6 603.9 Q235 606.8 229.8 604.2Z"/></g></svg></body></html>
